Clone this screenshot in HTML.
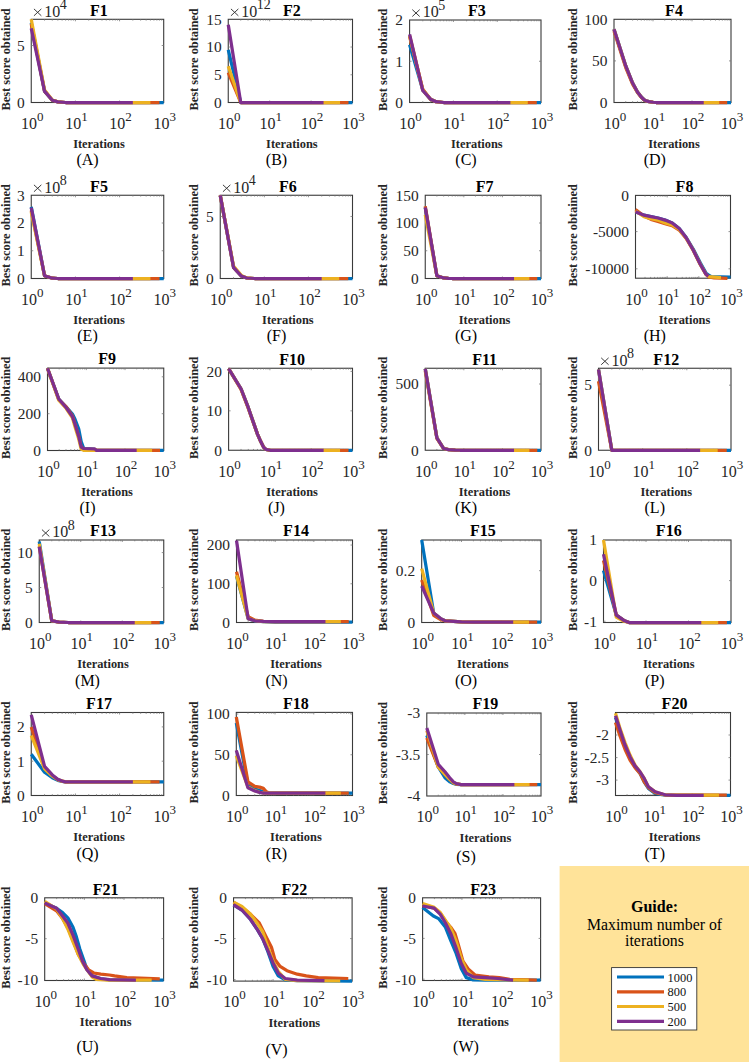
<!DOCTYPE html>
<html><head><meta charset="utf-8"><style>html,body{margin:0;padding:0;background:#fff;}svg{display:block;}</style></head>
<body><svg width="749" height="1062" viewBox="0 0 749 1062">
<rect width="749" height="1062" fill="#fff"/>
<rect x="31.25" y="19.3" width="132.45" height="83.2" fill="none" stroke="#3a3a3a" stroke-width="1.1"/>
<path d="M44.54,19.3v1.3M44.54,102.5v-1.3M52.31,19.3v1.3M52.31,102.5v-1.3M57.83,19.3v1.3M57.83,102.5v-1.3M62.11,19.3v1.3M62.11,102.5v-1.3M65.61,19.3v1.3M65.61,102.5v-1.3M68.56,19.3v1.3M68.56,102.5v-1.3M71.12,19.3v1.3M71.12,102.5v-1.3M73.38,19.3v1.3M73.38,102.5v-1.3M88.69,19.3v1.3M88.69,102.5v-1.3M96.46,19.3v1.3M96.46,102.5v-1.3M101.98,19.3v1.3M101.98,102.5v-1.3M106.26,19.3v1.3M106.26,102.5v-1.3M109.76,19.3v1.3M109.76,102.5v-1.3M112.71,19.3v1.3M112.71,102.5v-1.3M115.27,19.3v1.3M115.27,102.5v-1.3M117.53,19.3v1.3M117.53,102.5v-1.3M132.84,19.3v1.3M132.84,102.5v-1.3M140.61,19.3v1.3M140.61,102.5v-1.3M146.13,19.3v1.3M146.13,102.5v-1.3M150.41,19.3v1.3M150.41,102.5v-1.3M153.91,19.3v1.3M153.91,102.5v-1.3M156.86,19.3v1.3M156.86,102.5v-1.3M159.42,19.3v1.3M159.42,102.5v-1.3M161.68,19.3v1.3M161.68,102.5v-1.3M75.4,19.3v2M75.4,102.5v-2M119.55,19.3v2M119.55,102.5v-2M31.25,45.51h2M163.7,45.51h-2" stroke="#777" stroke-width="0.8" fill="none"/>
<path d="M31.25,22.72 L44.54,91.1 L52.31,100.22 L57.83,101.82 L65.61,102.5 L163.7,102.5" fill="none" stroke="#0072BD" stroke-width="3.25" stroke-linejoin="round" stroke-linecap="butt"/>
<path d="M31.25,23.86 L44.54,91.1 L52.31,100.22 L57.83,101.82 L65.61,102.5 L159.42,102.5" fill="none" stroke="#D95319" stroke-width="3.25" stroke-linejoin="round" stroke-linecap="butt"/>
<path d="M31.25,19.3 L44.54,89.96 L52.31,99.99 L57.83,101.82 L65.61,102.5 L150.41,102.5" fill="none" stroke="#EDB120" stroke-width="3.25" stroke-linejoin="round" stroke-linecap="butt"/>
<path d="M31.25,28.42 L44.54,91.1 L52.31,100.22 L57.83,101.82 L65.61,102.5 L132.84,102.5" fill="none" stroke="#7E2F8E" stroke-width="3.25" stroke-linejoin="round" stroke-linecap="butt"/>
<text x="24.65" y="107.8" text-anchor="end" font-size="15.4" font-family="Liberation Serif" fill="#262626">0</text>
<text x="24.65" y="50.81" text-anchor="end" font-size="15.4" font-family="Liberation Serif" fill="#262626">5</text>
<text x="32.25" y="128.8" text-anchor="middle" font-size="16" font-family="Liberation Serif" fill="#262626">10<tspan font-size="13" dy="-8">0</tspan></text>
<text x="76.4" y="128.8" text-anchor="middle" font-size="16" font-family="Liberation Serif" fill="#262626">10<tspan font-size="13" dy="-8">1</tspan></text>
<text x="120.55" y="128.8" text-anchor="middle" font-size="16" font-family="Liberation Serif" fill="#262626">10<tspan font-size="13" dy="-8">2</tspan></text>
<text x="164.7" y="128.8" text-anchor="middle" font-size="16" font-family="Liberation Serif" fill="#262626">10<tspan font-size="13" dy="-8">3</tspan></text>
<path d="M33.95,8.9L41.35,15.8M33.95,15.8L41.35,8.9" stroke="#333" stroke-width="0.95" fill="none"/>
<text x="44.35" y="16.7" font-size="16" font-family="Liberation Serif" fill="#262626">10</text>
<text x="59.85" y="8.9" font-size="14" font-family="Liberation Serif" fill="#262626">4</text>
<text x="98.97" y="15.6" text-anchor="middle" font-size="16" font-weight="bold" font-family="Liberation Serif" fill="#000">F1</text>
<text x="98.97" y="148.25" text-anchor="middle" font-size="12.4" font-weight="bold" font-family="Liberation Serif" fill="#262626">Iterations</text>
<text transform="translate(9.7,59.4) rotate(-90)" text-anchor="middle" font-size="12.4" font-weight="bold" font-family="Liberation Serif" fill="#262626">Best score obtained</text>
<text x="87.5" y="164.7" text-anchor="middle" font-size="16" font-family="Liberation Serif" fill="#000">(A)</text>
<rect x="228.25" y="19.3" width="124.25" height="83.2" fill="none" stroke="#3a3a3a" stroke-width="1.1"/>
<path d="M240.72,19.3v1.3M240.72,102.5v-1.3M248.01,19.3v1.3M248.01,102.5v-1.3M253.19,19.3v1.3M253.19,102.5v-1.3M257.2,19.3v1.3M257.2,102.5v-1.3M260.48,19.3v1.3M260.48,102.5v-1.3M263.25,19.3v1.3M263.25,102.5v-1.3M265.65,19.3v1.3M265.65,102.5v-1.3M267.77,19.3v1.3M267.77,102.5v-1.3M282.13,19.3v1.3M282.13,102.5v-1.3M289.43,19.3v1.3M289.43,102.5v-1.3M294.6,19.3v1.3M294.6,102.5v-1.3M298.62,19.3v1.3M298.62,102.5v-1.3M301.9,19.3v1.3M301.9,102.5v-1.3M304.67,19.3v1.3M304.67,102.5v-1.3M307.07,19.3v1.3M307.07,102.5v-1.3M309.19,19.3v1.3M309.19,102.5v-1.3M323.55,19.3v1.3M323.55,102.5v-1.3M330.84,19.3v1.3M330.84,102.5v-1.3M336.02,19.3v1.3M336.02,102.5v-1.3M340.03,19.3v1.3M340.03,102.5v-1.3M343.31,19.3v1.3M343.31,102.5v-1.3M346.08,19.3v1.3M346.08,102.5v-1.3M348.49,19.3v1.3M348.49,102.5v-1.3M350.6,19.3v1.3M350.6,102.5v-1.3M269.67,19.3v2M269.67,102.5v-2M311.08,19.3v2M311.08,102.5v-2M228.25,74.77h2M352.5,74.77h-2M228.25,47.03h2M352.5,47.03h-2" stroke="#777" stroke-width="0.8" fill="none"/>
<path d="M228.25,49.81 L240.72,102.5 L352.5,102.5" fill="none" stroke="#0072BD" stroke-width="3.25" stroke-linejoin="round" stroke-linecap="butt"/>
<path d="M228.25,72.55 L240.72,102.5 L348.49,102.5" fill="none" stroke="#D95319" stroke-width="3.25" stroke-linejoin="round" stroke-linecap="butt"/>
<path d="M228.25,66.17 L240.72,102.5 L340.03,102.5" fill="none" stroke="#EDB120" stroke-width="3.25" stroke-linejoin="round" stroke-linecap="butt"/>
<path d="M228.25,24.85 L240.72,102.5 L323.55,102.5" fill="none" stroke="#7E2F8E" stroke-width="3.25" stroke-linejoin="round" stroke-linecap="butt"/>
<text x="221.65" y="107.8" text-anchor="end" font-size="15.4" font-family="Liberation Serif" fill="#262626">0</text>
<text x="221.65" y="80.07" text-anchor="end" font-size="15.4" font-family="Liberation Serif" fill="#262626">5</text>
<text x="221.65" y="52.33" text-anchor="end" font-size="15.4" font-family="Liberation Serif" fill="#262626">10</text>
<text x="221.65" y="24.6" text-anchor="end" font-size="15.4" font-family="Liberation Serif" fill="#262626">15</text>
<text x="229.25" y="128.8" text-anchor="middle" font-size="16" font-family="Liberation Serif" fill="#262626">10<tspan font-size="13" dy="-8">0</tspan></text>
<text x="270.67" y="128.8" text-anchor="middle" font-size="16" font-family="Liberation Serif" fill="#262626">10<tspan font-size="13" dy="-8">1</tspan></text>
<text x="312.08" y="128.8" text-anchor="middle" font-size="16" font-family="Liberation Serif" fill="#262626">10<tspan font-size="13" dy="-8">2</tspan></text>
<text x="353.5" y="128.8" text-anchor="middle" font-size="16" font-family="Liberation Serif" fill="#262626">10<tspan font-size="13" dy="-8">3</tspan></text>
<path d="M230.95,8.9L238.35,15.8M230.95,15.8L238.35,8.9" stroke="#333" stroke-width="0.95" fill="none"/>
<text x="241.35" y="16.7" font-size="16" font-family="Liberation Serif" fill="#262626">10</text>
<text x="256.85" y="8.9" font-size="14" font-family="Liberation Serif" fill="#262626">12</text>
<text x="291.88" y="15.6" text-anchor="middle" font-size="16" font-weight="bold" font-family="Liberation Serif" fill="#000">F2</text>
<text x="291.88" y="148.25" text-anchor="middle" font-size="12.4" font-weight="bold" font-family="Liberation Serif" fill="#262626">Iterations</text>
<text transform="translate(198.1,59.4) rotate(-90)" text-anchor="middle" font-size="12.4" font-weight="bold" font-family="Liberation Serif" fill="#262626">Best score obtained</text>
<text x="276.5" y="164.7" text-anchor="middle" font-size="16" font-family="Liberation Serif" fill="#000">(B)</text>
<rect x="409.6" y="20" width="131.4" height="82.5" fill="none" stroke="#3a3a3a" stroke-width="1.1"/>
<path d="M422.79,20v1.3M422.79,102.5v-1.3M430.5,20v1.3M430.5,102.5v-1.3M435.97,20v1.3M435.97,102.5v-1.3M440.21,20v1.3M440.21,102.5v-1.3M443.68,20v1.3M443.68,102.5v-1.3M446.62,20v1.3M446.62,102.5v-1.3M449.16,20v1.3M449.16,102.5v-1.3M451.4,20v1.3M451.4,102.5v-1.3M466.59,20v1.3M466.59,102.5v-1.3M474.3,20v1.3M474.3,102.5v-1.3M479.77,20v1.3M479.77,102.5v-1.3M484.01,20v1.3M484.01,102.5v-1.3M487.48,20v1.3M487.48,102.5v-1.3M490.42,20v1.3M490.42,102.5v-1.3M492.96,20v1.3M492.96,102.5v-1.3M495.2,20v1.3M495.2,102.5v-1.3M510.39,20v1.3M510.39,102.5v-1.3M518.1,20v1.3M518.1,102.5v-1.3M523.57,20v1.3M523.57,102.5v-1.3M527.81,20v1.3M527.81,102.5v-1.3M531.28,20v1.3M531.28,102.5v-1.3M534.22,20v1.3M534.22,102.5v-1.3M536.76,20v1.3M536.76,102.5v-1.3M539,20v1.3M539,102.5v-1.3M453.4,20v2M453.4,102.5v-2M497.2,20v2M497.2,102.5v-2M409.6,61.25h2M541,61.25h-2" stroke="#777" stroke-width="0.8" fill="none"/>
<path d="M409.6,44.75 L422.79,90.12 L430.5,99.2 L435.97,101.67 L443.68,102.5 L541,102.5" fill="none" stroke="#0072BD" stroke-width="3.25" stroke-linejoin="round" stroke-linecap="butt"/>
<path d="M409.6,36.5 L422.79,89.3 L430.5,99.2 L435.97,101.67 L443.68,102.5 L536.76,102.5" fill="none" stroke="#D95319" stroke-width="3.25" stroke-linejoin="round" stroke-linecap="butt"/>
<path d="M409.6,35.67 L422.79,90.12 L430.5,99.2 L435.97,101.67 L443.68,102.5 L527.81,102.5" fill="none" stroke="#EDB120" stroke-width="3.25" stroke-linejoin="round" stroke-linecap="butt"/>
<path d="M409.6,34.44 L422.79,90.54 L430.5,99.2 L435.97,101.67 L443.68,102.5 L510.39,102.5" fill="none" stroke="#7E2F8E" stroke-width="3.25" stroke-linejoin="round" stroke-linecap="butt"/>
<text x="403" y="107.8" text-anchor="end" font-size="15.4" font-family="Liberation Serif" fill="#262626">0</text>
<text x="403" y="66.55" text-anchor="end" font-size="15.4" font-family="Liberation Serif" fill="#262626">1</text>
<text x="403" y="25.3" text-anchor="end" font-size="15.4" font-family="Liberation Serif" fill="#262626">2</text>
<text x="410.6" y="128.8" text-anchor="middle" font-size="16" font-family="Liberation Serif" fill="#262626">10<tspan font-size="13" dy="-8">0</tspan></text>
<text x="454.4" y="128.8" text-anchor="middle" font-size="16" font-family="Liberation Serif" fill="#262626">10<tspan font-size="13" dy="-8">1</tspan></text>
<text x="498.2" y="128.8" text-anchor="middle" font-size="16" font-family="Liberation Serif" fill="#262626">10<tspan font-size="13" dy="-8">2</tspan></text>
<text x="542" y="128.8" text-anchor="middle" font-size="16" font-family="Liberation Serif" fill="#262626">10<tspan font-size="13" dy="-8">3</tspan></text>
<path d="M412.3,9.6L419.7,16.5M412.3,16.5L419.7,9.6" stroke="#333" stroke-width="0.95" fill="none"/>
<text x="422.7" y="17.4" font-size="16" font-family="Liberation Serif" fill="#262626">10</text>
<text x="438.2" y="9.6" font-size="14" font-family="Liberation Serif" fill="#262626">5</text>
<text x="476.8" y="16.3" text-anchor="middle" font-size="16" font-weight="bold" font-family="Liberation Serif" fill="#000">F3</text>
<text x="476.8" y="148.25" text-anchor="middle" font-size="12.4" font-weight="bold" font-family="Liberation Serif" fill="#262626">Iterations</text>
<text transform="translate(387.1,59.75) rotate(-90)" text-anchor="middle" font-size="12.4" font-weight="bold" font-family="Liberation Serif" fill="#262626">Best score obtained</text>
<text x="466" y="164.7" text-anchor="middle" font-size="16" font-family="Liberation Serif" fill="#000">(C)</text>
<rect x="614" y="19.3" width="117" height="83.2" fill="none" stroke="#3a3a3a" stroke-width="1.1"/>
<path d="M625.74,19.3v1.3M625.74,102.5v-1.3M632.61,19.3v1.3M632.61,102.5v-1.3M637.48,19.3v1.3M637.48,102.5v-1.3M641.26,19.3v1.3M641.26,102.5v-1.3M644.35,19.3v1.3M644.35,102.5v-1.3M646.96,19.3v1.3M646.96,102.5v-1.3M649.22,19.3v1.3M649.22,102.5v-1.3M651.22,19.3v1.3M651.22,102.5v-1.3M664.74,19.3v1.3M664.74,102.5v-1.3M671.61,19.3v1.3M671.61,102.5v-1.3M676.48,19.3v1.3M676.48,102.5v-1.3M680.26,19.3v1.3M680.26,102.5v-1.3M683.35,19.3v1.3M683.35,102.5v-1.3M685.96,19.3v1.3M685.96,102.5v-1.3M688.22,19.3v1.3M688.22,102.5v-1.3M690.22,19.3v1.3M690.22,102.5v-1.3M703.74,19.3v1.3M703.74,102.5v-1.3M710.61,19.3v1.3M710.61,102.5v-1.3M715.48,19.3v1.3M715.48,102.5v-1.3M719.26,19.3v1.3M719.26,102.5v-1.3M722.35,19.3v1.3M722.35,102.5v-1.3M724.96,19.3v1.3M724.96,102.5v-1.3M727.22,19.3v1.3M727.22,102.5v-1.3M729.22,19.3v1.3M729.22,102.5v-1.3M653,19.3v2M653,102.5v-2M692,19.3v2M692,102.5v-2M614,60.9h2M731,60.9h-2" stroke="#777" stroke-width="0.8" fill="none"/>
<path d="M614,29.37 L625.74,65.98 L632.61,83.03 L637.48,92.02 L641.26,97.01 L644.35,100 L646.96,101.17 L649.22,101.67 L653,102.25 L656.09,102.5 L731,102.5" fill="none" stroke="#0072BD" stroke-width="3.25" stroke-linejoin="round" stroke-linecap="butt"/>
<path d="M614,30.95 L625.74,67.56 L632.61,84.2 L637.48,92.52 L641.26,97.34 L644.35,100.17 L646.96,101.25 L649.22,101.67 L653,102.25 L656.09,102.5 L727.22,102.5" fill="none" stroke="#D95319" stroke-width="3.25" stroke-linejoin="round" stroke-linecap="butt"/>
<path d="M614,29.37 L625.74,65.98 L632.61,83.03 L637.48,92.02 L641.26,97.01 L644.35,100 L646.96,101.17 L649.22,101.67 L653,102.25 L656.09,102.5 L719.26,102.5" fill="none" stroke="#EDB120" stroke-width="3.25" stroke-linejoin="round" stroke-linecap="butt"/>
<path d="M614,29.37 L625.74,65.98 L632.61,83.03 L637.48,92.02 L641.26,97.01 L644.35,100 L646.96,101.17 L649.22,101.67 L653,102.25 L656.09,102.5 L703.74,102.5" fill="none" stroke="#7E2F8E" stroke-width="3.25" stroke-linejoin="round" stroke-linecap="butt"/>
<text x="607.4" y="107.8" text-anchor="end" font-size="15.4" font-family="Liberation Serif" fill="#262626">0</text>
<text x="607.4" y="66.2" text-anchor="end" font-size="15.4" font-family="Liberation Serif" fill="#262626">50</text>
<text x="607.4" y="24.6" text-anchor="end" font-size="15.4" font-family="Liberation Serif" fill="#262626">100</text>
<text x="615" y="128.8" text-anchor="middle" font-size="16" font-family="Liberation Serif" fill="#262626">10<tspan font-size="13" dy="-8">0</tspan></text>
<text x="654" y="128.8" text-anchor="middle" font-size="16" font-family="Liberation Serif" fill="#262626">10<tspan font-size="13" dy="-8">1</tspan></text>
<text x="693" y="128.8" text-anchor="middle" font-size="16" font-family="Liberation Serif" fill="#262626">10<tspan font-size="13" dy="-8">2</tspan></text>
<text x="732" y="128.8" text-anchor="middle" font-size="16" font-family="Liberation Serif" fill="#262626">10<tspan font-size="13" dy="-8">3</tspan></text>
<text x="674" y="15.6" text-anchor="middle" font-size="16" font-weight="bold" font-family="Liberation Serif" fill="#000">F4</text>
<text x="674" y="148.25" text-anchor="middle" font-size="12.4" font-weight="bold" font-family="Liberation Serif" fill="#262626">Iterations</text>
<text transform="translate(576.7,59.4) rotate(-90)" text-anchor="middle" font-size="12.4" font-weight="bold" font-family="Liberation Serif" fill="#262626">Best score obtained</text>
<text x="654.75" y="164.7" text-anchor="middle" font-size="16" font-family="Liberation Serif" fill="#000">(D)</text>
<rect x="31.25" y="195.25" width="132.5" height="83.25" fill="none" stroke="#3a3a3a" stroke-width="1.1"/>
<path d="M44.55,195.25v1.3M44.55,278.5v-1.3M52.32,195.25v1.3M52.32,278.5v-1.3M57.84,195.25v1.3M57.84,278.5v-1.3M62.12,195.25v1.3M62.12,278.5v-1.3M65.62,195.25v1.3M65.62,278.5v-1.3M68.58,195.25v1.3M68.58,278.5v-1.3M71.14,195.25v1.3M71.14,278.5v-1.3M73.4,195.25v1.3M73.4,278.5v-1.3M88.71,195.25v1.3M88.71,278.5v-1.3M96.49,195.25v1.3M96.49,278.5v-1.3M102.01,195.25v1.3M102.01,278.5v-1.3M106.29,195.25v1.3M106.29,278.5v-1.3M109.79,195.25v1.3M109.79,278.5v-1.3M112.74,195.25v1.3M112.74,278.5v-1.3M115.3,195.25v1.3M115.3,278.5v-1.3M117.56,195.25v1.3M117.56,278.5v-1.3M132.88,195.25v1.3M132.88,278.5v-1.3M140.66,195.25v1.3M140.66,278.5v-1.3M146.17,195.25v1.3M146.17,278.5v-1.3M150.45,195.25v1.3M150.45,278.5v-1.3M153.95,195.25v1.3M153.95,278.5v-1.3M156.91,195.25v1.3M156.91,278.5v-1.3M159.47,195.25v1.3M159.47,278.5v-1.3M161.73,195.25v1.3M161.73,278.5v-1.3M75.42,195.25v2M75.42,278.5v-2M119.58,195.25v2M119.58,278.5v-2M31.25,250.75h2M163.75,250.75h-2M31.25,223h2M163.75,223h-2" stroke="#777" stroke-width="0.8" fill="none"/>
<path d="M31.25,206.91 L44.55,275.73 L52.32,278.22 L57.84,278.5 L163.75,278.5" fill="none" stroke="#0072BD" stroke-width="3.25" stroke-linejoin="round" stroke-linecap="butt"/>
<path d="M31.25,210.51 L44.55,275.73 L52.32,278.22 L57.84,278.5 L159.47,278.5" fill="none" stroke="#D95319" stroke-width="3.25" stroke-linejoin="round" stroke-linecap="butt"/>
<path d="M31.25,211.9 L44.55,275.73 L52.32,278.22 L57.84,278.5 L150.45,278.5" fill="none" stroke="#EDB120" stroke-width="3.25" stroke-linejoin="round" stroke-linecap="butt"/>
<path d="M31.25,207.74 L44.55,275.73 L52.32,278.22 L57.84,278.5 L132.88,278.5" fill="none" stroke="#7E2F8E" stroke-width="3.25" stroke-linejoin="round" stroke-linecap="butt"/>
<text x="24.65" y="283.8" text-anchor="end" font-size="15.4" font-family="Liberation Serif" fill="#262626">0</text>
<text x="24.65" y="256.05" text-anchor="end" font-size="15.4" font-family="Liberation Serif" fill="#262626">1</text>
<text x="24.65" y="228.3" text-anchor="end" font-size="15.4" font-family="Liberation Serif" fill="#262626">2</text>
<text x="24.65" y="200.55" text-anchor="end" font-size="15.4" font-family="Liberation Serif" fill="#262626">3</text>
<text x="32.25" y="304.8" text-anchor="middle" font-size="16" font-family="Liberation Serif" fill="#262626">10<tspan font-size="13" dy="-8">0</tspan></text>
<text x="76.42" y="304.8" text-anchor="middle" font-size="16" font-family="Liberation Serif" fill="#262626">10<tspan font-size="13" dy="-8">1</tspan></text>
<text x="120.58" y="304.8" text-anchor="middle" font-size="16" font-family="Liberation Serif" fill="#262626">10<tspan font-size="13" dy="-8">2</tspan></text>
<text x="164.75" y="304.8" text-anchor="middle" font-size="16" font-family="Liberation Serif" fill="#262626">10<tspan font-size="13" dy="-8">3</tspan></text>
<path d="M33.95,184.85L41.35,191.75M33.95,191.75L41.35,184.85" stroke="#333" stroke-width="0.95" fill="none"/>
<text x="44.35" y="192.65" font-size="16" font-family="Liberation Serif" fill="#262626">10</text>
<text x="59.85" y="184.85" font-size="14" font-family="Liberation Serif" fill="#262626">8</text>
<text x="99" y="191.55" text-anchor="middle" font-size="16" font-weight="bold" font-family="Liberation Serif" fill="#000">F5</text>
<text x="99" y="324.25" text-anchor="middle" font-size="12.4" font-weight="bold" font-family="Liberation Serif" fill="#262626">Iterations</text>
<text transform="translate(9.7,235.38) rotate(-90)" text-anchor="middle" font-size="12.4" font-weight="bold" font-family="Liberation Serif" fill="#262626">Best score obtained</text>
<text x="87.5" y="340.8" text-anchor="middle" font-size="16" font-family="Liberation Serif" fill="#000">(E)</text>
<rect x="220.25" y="195.25" width="132.25" height="83.25" fill="none" stroke="#3a3a3a" stroke-width="1.1"/>
<path d="M233.52,195.25v1.3M233.52,278.5v-1.3M241.28,195.25v1.3M241.28,278.5v-1.3M246.79,195.25v1.3M246.79,278.5v-1.3M251.06,195.25v1.3M251.06,278.5v-1.3M254.55,195.25v1.3M254.55,278.5v-1.3M257.5,195.25v1.3M257.5,278.5v-1.3M260.06,195.25v1.3M260.06,278.5v-1.3M262.32,195.25v1.3M262.32,278.5v-1.3M277.6,195.25v1.3M277.6,278.5v-1.3M285.37,195.25v1.3M285.37,278.5v-1.3M290.87,195.25v1.3M290.87,278.5v-1.3M295.15,195.25v1.3M295.15,278.5v-1.3M298.64,195.25v1.3M298.64,278.5v-1.3M301.59,195.25v1.3M301.59,278.5v-1.3M304.14,195.25v1.3M304.14,278.5v-1.3M306.4,195.25v1.3M306.4,278.5v-1.3M321.69,195.25v1.3M321.69,278.5v-1.3M329.45,195.25v1.3M329.45,278.5v-1.3M334.96,195.25v1.3M334.96,278.5v-1.3M339.23,195.25v1.3M339.23,278.5v-1.3M342.72,195.25v1.3M342.72,278.5v-1.3M345.67,195.25v1.3M345.67,278.5v-1.3M348.23,195.25v1.3M348.23,278.5v-1.3M350.48,195.25v1.3M350.48,278.5v-1.3M264.33,195.25v2M264.33,278.5v-2M308.42,195.25v2M308.42,278.5v-2M220.25,216.47h2M352.5,216.47h-2" stroke="#777" stroke-width="0.8" fill="none"/>
<path d="M220.25,195.37 L233.52,267.33 L241.28,276.02 L246.79,278 L254.55,278.5 L352.5,278.5" fill="none" stroke="#0072BD" stroke-width="3.25" stroke-linejoin="round" stroke-linecap="butt"/>
<path d="M220.25,195.37 L233.52,267.33 L241.28,276.02 L246.79,278 L254.55,278.5 L348.23,278.5" fill="none" stroke="#D95319" stroke-width="3.25" stroke-linejoin="round" stroke-linecap="butt"/>
<path d="M220.25,195.37 L233.52,266.09 L241.28,275.4 L246.79,277.88 L254.55,278.5 L339.23,278.5" fill="none" stroke="#EDB120" stroke-width="3.25" stroke-linejoin="round" stroke-linecap="butt"/>
<path d="M220.25,195.37 L233.52,267.33 L241.28,276.02 L246.79,278 L254.55,278.5 L321.69,278.5" fill="none" stroke="#7E2F8E" stroke-width="3.25" stroke-linejoin="round" stroke-linecap="butt"/>
<text x="213.65" y="283.8" text-anchor="end" font-size="15.4" font-family="Liberation Serif" fill="#262626">0</text>
<text x="213.65" y="221.77" text-anchor="end" font-size="15.4" font-family="Liberation Serif" fill="#262626">5</text>
<text x="221.25" y="304.8" text-anchor="middle" font-size="16" font-family="Liberation Serif" fill="#262626">10<tspan font-size="13" dy="-8">0</tspan></text>
<text x="265.33" y="304.8" text-anchor="middle" font-size="16" font-family="Liberation Serif" fill="#262626">10<tspan font-size="13" dy="-8">1</tspan></text>
<text x="309.42" y="304.8" text-anchor="middle" font-size="16" font-family="Liberation Serif" fill="#262626">10<tspan font-size="13" dy="-8">2</tspan></text>
<text x="353.5" y="304.8" text-anchor="middle" font-size="16" font-family="Liberation Serif" fill="#262626">10<tspan font-size="13" dy="-8">3</tspan></text>
<path d="M222.95,184.85L230.35,191.75M222.95,191.75L230.35,184.85" stroke="#333" stroke-width="0.95" fill="none"/>
<text x="233.35" y="192.65" font-size="16" font-family="Liberation Serif" fill="#262626">10</text>
<text x="248.85" y="184.85" font-size="14" font-family="Liberation Serif" fill="#262626">4</text>
<text x="287.88" y="191.55" text-anchor="middle" font-size="16" font-weight="bold" font-family="Liberation Serif" fill="#000">F6</text>
<text x="287.88" y="324.25" text-anchor="middle" font-size="12.4" font-weight="bold" font-family="Liberation Serif" fill="#262626">Iterations</text>
<text transform="translate(198.1,235.38) rotate(-90)" text-anchor="middle" font-size="12.4" font-weight="bold" font-family="Liberation Serif" fill="#262626">Best score obtained</text>
<text x="276.5" y="340.8" text-anchor="middle" font-size="16" font-family="Liberation Serif" fill="#000">(F)</text>
<rect x="425.25" y="195.25" width="115.75" height="83.25" fill="none" stroke="#3a3a3a" stroke-width="1.1"/>
<path d="M436.86,195.25v1.3M436.86,278.5v-1.3M443.66,195.25v1.3M443.66,278.5v-1.3M448.48,195.25v1.3M448.48,278.5v-1.3M452.22,195.25v1.3M452.22,278.5v-1.3M455.27,195.25v1.3M455.27,278.5v-1.3M457.86,195.25v1.3M457.86,278.5v-1.3M460.09,195.25v1.3M460.09,278.5v-1.3M462.07,195.25v1.3M462.07,278.5v-1.3M475.45,195.25v1.3M475.45,278.5v-1.3M482.24,195.25v1.3M482.24,278.5v-1.3M487.06,195.25v1.3M487.06,278.5v-1.3M490.8,195.25v1.3M490.8,278.5v-1.3M493.86,195.25v1.3M493.86,278.5v-1.3M496.44,195.25v1.3M496.44,278.5v-1.3M498.68,195.25v1.3M498.68,278.5v-1.3M500.65,195.25v1.3M500.65,278.5v-1.3M514.03,195.25v1.3M514.03,278.5v-1.3M520.83,195.25v1.3M520.83,278.5v-1.3M525.65,195.25v1.3M525.65,278.5v-1.3M529.39,195.25v1.3M529.39,278.5v-1.3M532.44,195.25v1.3M532.44,278.5v-1.3M535.02,195.25v1.3M535.02,278.5v-1.3M537.26,195.25v1.3M537.26,278.5v-1.3M539.23,195.25v1.3M539.23,278.5v-1.3M463.83,195.25v2M463.83,278.5v-2M502.42,195.25v2M502.42,278.5v-2M425.25,250.75h2M541,250.75h-2M425.25,223h2M541,223h-2" stroke="#777" stroke-width="0.8" fill="none"/>
<path d="M425.25,207.46 L436.86,275.73 L443.66,277.94 L448.48,278.33 L452.22,278.5 L541,278.5" fill="none" stroke="#0072BD" stroke-width="3.25" stroke-linejoin="round" stroke-linecap="butt"/>
<path d="M425.25,206.35 L436.86,275.73 L443.66,277.94 L448.48,278.33 L452.22,278.5 L537.26,278.5" fill="none" stroke="#D95319" stroke-width="3.25" stroke-linejoin="round" stroke-linecap="butt"/>
<path d="M425.25,214.68 L436.86,275.73 L443.66,277.94 L448.48,278.33 L452.22,278.5 L529.39,278.5" fill="none" stroke="#EDB120" stroke-width="3.25" stroke-linejoin="round" stroke-linecap="butt"/>
<path d="M425.25,207.46 L436.86,275.73 L443.66,277.94 L448.48,278.33 L452.22,278.5 L514.03,278.5" fill="none" stroke="#7E2F8E" stroke-width="3.25" stroke-linejoin="round" stroke-linecap="butt"/>
<text x="418.65" y="283.8" text-anchor="end" font-size="15.4" font-family="Liberation Serif" fill="#262626">0</text>
<text x="418.65" y="256.05" text-anchor="end" font-size="15.4" font-family="Liberation Serif" fill="#262626">50</text>
<text x="418.65" y="228.3" text-anchor="end" font-size="15.4" font-family="Liberation Serif" fill="#262626">100</text>
<text x="418.65" y="200.55" text-anchor="end" font-size="15.4" font-family="Liberation Serif" fill="#262626">150</text>
<text x="426.25" y="304.8" text-anchor="middle" font-size="16" font-family="Liberation Serif" fill="#262626">10<tspan font-size="13" dy="-8">0</tspan></text>
<text x="464.83" y="304.8" text-anchor="middle" font-size="16" font-family="Liberation Serif" fill="#262626">10<tspan font-size="13" dy="-8">1</tspan></text>
<text x="503.42" y="304.8" text-anchor="middle" font-size="16" font-family="Liberation Serif" fill="#262626">10<tspan font-size="13" dy="-8">2</tspan></text>
<text x="542" y="304.8" text-anchor="middle" font-size="16" font-family="Liberation Serif" fill="#262626">10<tspan font-size="13" dy="-8">3</tspan></text>
<text x="484.62" y="191.55" text-anchor="middle" font-size="16" font-weight="bold" font-family="Liberation Serif" fill="#000">F7</text>
<text x="484.62" y="324.25" text-anchor="middle" font-size="12.4" font-weight="bold" font-family="Liberation Serif" fill="#262626">Iterations</text>
<text transform="translate(387.1,235.38) rotate(-90)" text-anchor="middle" font-size="12.4" font-weight="bold" font-family="Liberation Serif" fill="#262626">Best score obtained</text>
<text x="466" y="340.8" text-anchor="middle" font-size="16" font-family="Liberation Serif" fill="#000">(G)</text>
<rect x="635.5" y="195.4" width="95" height="82.8" fill="none" stroke="#3a3a3a" stroke-width="1.1"/>
<path d="M645.03,195.4v1.3M645.03,278.2v-1.3M650.61,195.4v1.3M650.61,278.2v-1.3M654.57,195.4v1.3M654.57,278.2v-1.3M657.63,195.4v1.3M657.63,278.2v-1.3M660.14,195.4v1.3M660.14,278.2v-1.3M662.26,195.4v1.3M662.26,278.2v-1.3M664.1,195.4v1.3M664.1,278.2v-1.3M665.72,195.4v1.3M665.72,278.2v-1.3M676.7,195.4v1.3M676.7,278.2v-1.3M682.28,195.4v1.3M682.28,278.2v-1.3M686.23,195.4v1.3M686.23,278.2v-1.3M689.3,195.4v1.3M689.3,278.2v-1.3M691.81,195.4v1.3M691.81,278.2v-1.3M693.93,195.4v1.3M693.93,278.2v-1.3M695.76,195.4v1.3M695.76,278.2v-1.3M697.38,195.4v1.3M697.38,278.2v-1.3M708.37,195.4v1.3M708.37,278.2v-1.3M713.94,195.4v1.3M713.94,278.2v-1.3M717.9,195.4v1.3M717.9,278.2v-1.3M720.97,195.4v1.3M720.97,278.2v-1.3M723.47,195.4v1.3M723.47,278.2v-1.3M725.59,195.4v1.3M725.59,278.2v-1.3M727.43,195.4v1.3M727.43,278.2v-1.3M729.05,195.4v1.3M729.05,278.2v-1.3M667.17,195.4v2M667.17,278.2v-2M698.83,195.4v2M698.83,278.2v-2M635.5,231.6h2M730.5,231.6h-2M635.5,268.8h2M730.5,268.8h-2" stroke="#777" stroke-width="0.8" fill="none"/>
<path d="M635.5,211.7 L643.96,215.2 L650.97,216.6 L657.91,218 L665.09,220.1 L672.18,222.9 L679.21,228.6 L686.23,237.5 L693.33,249.3 L700.27,262.8 L705.89,272.9 L708.71,275.2 L711.43,276.6 L730.5,277" fill="none" stroke="#0072BD" stroke-width="3.25" stroke-linejoin="round" stroke-linecap="butt"/>
<path d="M635.5,209.6 L643.96,216 L650.97,219.4 L657.91,221.5 L665.09,223.6 L672.18,225.7 L679.21,230 L686.23,238.5 L693.33,250.5 L700.27,264.5 L705.89,274.3 L708.71,277 L713.94,277.8 L727.43,278.3" fill="none" stroke="#D95319" stroke-width="3.25" stroke-linejoin="round" stroke-linecap="butt"/>
<path d="M635.5,211 L643.96,216.6 L650.97,218.7 L657.91,220.1 L665.09,223 L672.18,225 L679.21,229.5 L686.23,238 L693.33,250.3 L700.27,264.3 L705.89,274.1 L708.71,276.6 L720.97,277.6" fill="none" stroke="#EDB120" stroke-width="3.25" stroke-linejoin="round" stroke-linecap="butt"/>
<path d="M635.5,211.7 L643.96,215.2 L650.97,216.6 L657.91,218 L665.09,220.1 L672.18,222.9 L679.21,228.6 L686.23,237.7 L693.33,250.3 L700.27,264.3 L705.89,274.1 L708.37,276.2" fill="none" stroke="#7E2F8E" stroke-width="3.25" stroke-linejoin="round" stroke-linecap="butt"/>
<text x="628.9" y="200.7" text-anchor="end" font-size="15.4" font-family="Liberation Serif" fill="#262626">0</text>
<text x="628.9" y="236.9" text-anchor="end" font-size="15.4" font-family="Liberation Serif" fill="#262626">-5000</text>
<text x="628.9" y="274.1" text-anchor="end" font-size="15.4" font-family="Liberation Serif" fill="#262626">-10000</text>
<text x="636.5" y="304.5" text-anchor="middle" font-size="16" font-family="Liberation Serif" fill="#262626">10<tspan font-size="13" dy="-8">0</tspan></text>
<text x="668.17" y="304.5" text-anchor="middle" font-size="16" font-family="Liberation Serif" fill="#262626">10<tspan font-size="13" dy="-8">1</tspan></text>
<text x="699.83" y="304.5" text-anchor="middle" font-size="16" font-family="Liberation Serif" fill="#262626">10<tspan font-size="13" dy="-8">2</tspan></text>
<text x="731.5" y="304.5" text-anchor="middle" font-size="16" font-family="Liberation Serif" fill="#262626">10<tspan font-size="13" dy="-8">3</tspan></text>
<text x="684.5" y="191.7" text-anchor="middle" font-size="16" font-weight="bold" font-family="Liberation Serif" fill="#000">F8</text>
<text x="684.5" y="323.95" text-anchor="middle" font-size="12.4" font-weight="bold" font-family="Liberation Serif" fill="#262626">Iterations</text>
<text transform="translate(576.7,235.3) rotate(-90)" text-anchor="middle" font-size="12.4" font-weight="bold" font-family="Liberation Serif" fill="#262626">Best score obtained</text>
<text x="654.75" y="340.8" text-anchor="middle" font-size="16" font-family="Liberation Serif" fill="#000">(H)</text>
<rect x="47.5" y="368.1" width="116.25" height="82.4" fill="none" stroke="#3a3a3a" stroke-width="1.1"/>
<path d="M59.16,368.1v1.3M59.16,450.5v-1.3M65.99,368.1v1.3M65.99,450.5v-1.3M70.83,368.1v1.3M70.83,450.5v-1.3M74.59,368.1v1.3M74.59,450.5v-1.3M77.65,368.1v1.3M77.65,450.5v-1.3M80.25,368.1v1.3M80.25,450.5v-1.3M82.49,368.1v1.3M82.49,450.5v-1.3M84.48,368.1v1.3M84.48,450.5v-1.3M97.91,368.1v1.3M97.91,450.5v-1.3M104.74,368.1v1.3M104.74,450.5v-1.3M109.58,368.1v1.3M109.58,450.5v-1.3M113.34,368.1v1.3M113.34,450.5v-1.3M116.4,368.1v1.3M116.4,450.5v-1.3M119,368.1v1.3M119,450.5v-1.3M121.24,368.1v1.3M121.24,450.5v-1.3M123.23,368.1v1.3M123.23,450.5v-1.3M136.66,368.1v1.3M136.66,450.5v-1.3M143.49,368.1v1.3M143.49,450.5v-1.3M148.33,368.1v1.3M148.33,450.5v-1.3M152.09,368.1v1.3M152.09,450.5v-1.3M155.15,368.1v1.3M155.15,450.5v-1.3M157.75,368.1v1.3M157.75,450.5v-1.3M159.99,368.1v1.3M159.99,450.5v-1.3M161.98,368.1v1.3M161.98,450.5v-1.3M86.25,368.1v2M86.25,450.5v-2M125,368.1v2M125,450.5v-2M47.5,413.7h2M163.75,413.7h-2M47.5,376.8h2M163.75,376.8h-2" stroke="#777" stroke-width="0.8" fill="none"/>
<path d="M47.5,368.25 L58.74,399 L66.27,407 L72.43,414 L74.92,419 L78.74,429 L81.18,441.5 L83.71,448.5 L94.16,449 L96.14,450.25 L163.75,450.25" fill="none" stroke="#0072BD" stroke-width="3.25" stroke-linejoin="round" stroke-linecap="butt"/>
<path d="M47.5,368.25 L58.74,399.5 L66.27,407 L72.43,416 L74.92,424 L78.74,436.5 L81.18,447 L83.71,449 L94.98,449.25 L96.14,450.25 L159.99,450.25" fill="none" stroke="#D95319" stroke-width="3.25" stroke-linejoin="round" stroke-linecap="butt"/>
<path d="M47.5,368.25 L58.74,400.25 L66.27,408.5 L72.43,417.75 L74.92,426.5 L78.74,439 L81.18,449 L83.71,450.25 L152.09,450.25" fill="none" stroke="#EDB120" stroke-width="3.25" stroke-linejoin="round" stroke-linecap="butt"/>
<path d="M47.5,368.25 L58.74,399 L66.27,407.75 L72.43,416.5 L74.92,424 L78.74,436.5 L81.18,447 L83.71,448.5 L94.98,449 L96.14,450.25 L136.66,450.25" fill="none" stroke="#7E2F8E" stroke-width="3.25" stroke-linejoin="round" stroke-linecap="butt"/>
<text x="40.9" y="455.8" text-anchor="end" font-size="15.4" font-family="Liberation Serif" fill="#262626">0</text>
<text x="40.9" y="419" text-anchor="end" font-size="15.4" font-family="Liberation Serif" fill="#262626">200</text>
<text x="40.9" y="382.1" text-anchor="end" font-size="15.4" font-family="Liberation Serif" fill="#262626">400</text>
<text x="48.5" y="476.8" text-anchor="middle" font-size="16" font-family="Liberation Serif" fill="#262626">10<tspan font-size="13" dy="-8">0</tspan></text>
<text x="87.25" y="476.8" text-anchor="middle" font-size="16" font-family="Liberation Serif" fill="#262626">10<tspan font-size="13" dy="-8">1</tspan></text>
<text x="126" y="476.8" text-anchor="middle" font-size="16" font-family="Liberation Serif" fill="#262626">10<tspan font-size="13" dy="-8">2</tspan></text>
<text x="164.75" y="476.8" text-anchor="middle" font-size="16" font-family="Liberation Serif" fill="#262626">10<tspan font-size="13" dy="-8">3</tspan></text>
<text x="107.12" y="364.4" text-anchor="middle" font-size="16" font-weight="bold" font-family="Liberation Serif" fill="#000">F9</text>
<text x="107.12" y="496.25" text-anchor="middle" font-size="12.4" font-weight="bold" font-family="Liberation Serif" fill="#262626">Iterations</text>
<text transform="translate(9.7,407.8) rotate(-90)" text-anchor="middle" font-size="12.4" font-weight="bold" font-family="Liberation Serif" fill="#262626">Best score obtained</text>
<text x="87.5" y="513" text-anchor="middle" font-size="16" font-family="Liberation Serif" fill="#000">(I)</text>
<rect x="228.6" y="368.25" width="123.9" height="82" fill="none" stroke="#3a3a3a" stroke-width="1.1"/>
<path d="M241.03,368.25v1.3M241.03,450.25v-1.3M248.31,368.25v1.3M248.31,450.25v-1.3M253.47,368.25v1.3M253.47,450.25v-1.3M257.47,368.25v1.3M257.47,450.25v-1.3M260.74,368.25v1.3M260.74,450.25v-1.3M263.5,368.25v1.3M263.5,450.25v-1.3M265.9,368.25v1.3M265.9,450.25v-1.3M268.01,368.25v1.3M268.01,450.25v-1.3M282.33,368.25v1.3M282.33,450.25v-1.3M289.61,368.25v1.3M289.61,450.25v-1.3M294.77,368.25v1.3M294.77,450.25v-1.3M298.77,368.25v1.3M298.77,450.25v-1.3M302.04,368.25v1.3M302.04,450.25v-1.3M304.8,368.25v1.3M304.8,450.25v-1.3M307.2,368.25v1.3M307.2,450.25v-1.3M309.31,368.25v1.3M309.31,450.25v-1.3M323.63,368.25v1.3M323.63,450.25v-1.3M330.91,368.25v1.3M330.91,450.25v-1.3M336.07,368.25v1.3M336.07,450.25v-1.3M340.07,368.25v1.3M340.07,450.25v-1.3M343.34,368.25v1.3M343.34,450.25v-1.3M346.1,368.25v1.3M346.1,450.25v-1.3M348.5,368.25v1.3M348.5,450.25v-1.3M350.61,368.25v1.3M350.61,450.25v-1.3M269.9,368.25v2M269.9,450.25v-2M311.2,368.25v2M311.2,450.25v-2M228.6,410.83h2M352.5,410.83h-2M228.6,371.4h2M352.5,371.4h-2" stroke="#777" stroke-width="0.8" fill="none"/>
<path d="M228.6,368.64 L241.03,388.75 L248.31,407.67 L253.47,422.65 L257.47,434.09 L260.74,441.58 L263.5,447.1 L265.9,449.46 L269.9,450.25 L352.5,450.25" fill="none" stroke="#0072BD" stroke-width="3.25" stroke-linejoin="round" stroke-linecap="butt"/>
<path d="M228.6,368.64 L241.03,389.54 L248.31,408.46 L253.47,423.05 L257.47,434.09 L260.74,441.58 L263.5,447.1 L265.9,449.46 L269.9,450.25 L348.5,450.25" fill="none" stroke="#D95319" stroke-width="3.25" stroke-linejoin="round" stroke-linecap="butt"/>
<path d="M228.6,368.64 L241.03,388.75 L248.31,407.67 L253.47,422.65 L257.47,434.09 L260.74,441.58 L263.5,447.1 L265.9,449.46 L269.9,450.25 L340.07,450.25" fill="none" stroke="#EDB120" stroke-width="3.25" stroke-linejoin="round" stroke-linecap="butt"/>
<path d="M228.6,368.64 L241.03,388.75 L248.31,407.67 L253.47,422.65 L257.47,434.09 L260.74,441.58 L263.5,447.1 L265.9,449.46 L269.9,450.25 L323.63,450.25" fill="none" stroke="#7E2F8E" stroke-width="3.25" stroke-linejoin="round" stroke-linecap="butt"/>
<text x="222" y="455.55" text-anchor="end" font-size="15.4" font-family="Liberation Serif" fill="#262626">0</text>
<text x="222" y="416.13" text-anchor="end" font-size="15.4" font-family="Liberation Serif" fill="#262626">10</text>
<text x="222" y="376.7" text-anchor="end" font-size="15.4" font-family="Liberation Serif" fill="#262626">20</text>
<text x="229.6" y="476.55" text-anchor="middle" font-size="16" font-family="Liberation Serif" fill="#262626">10<tspan font-size="13" dy="-8">0</tspan></text>
<text x="270.9" y="476.55" text-anchor="middle" font-size="16" font-family="Liberation Serif" fill="#262626">10<tspan font-size="13" dy="-8">1</tspan></text>
<text x="312.2" y="476.55" text-anchor="middle" font-size="16" font-family="Liberation Serif" fill="#262626">10<tspan font-size="13" dy="-8">2</tspan></text>
<text x="353.5" y="476.55" text-anchor="middle" font-size="16" font-family="Liberation Serif" fill="#262626">10<tspan font-size="13" dy="-8">3</tspan></text>
<text x="292.05" y="364.55" text-anchor="middle" font-size="16" font-weight="bold" font-family="Liberation Serif" fill="#000">F10</text>
<text x="292.05" y="496" text-anchor="middle" font-size="12.4" font-weight="bold" font-family="Liberation Serif" fill="#262626">Iterations</text>
<text transform="translate(198.1,407.75) rotate(-90)" text-anchor="middle" font-size="12.4" font-weight="bold" font-family="Liberation Serif" fill="#262626">Best score obtained</text>
<text x="276.5" y="513" text-anchor="middle" font-size="16" font-family="Liberation Serif" fill="#000">(J)</text>
<rect x="425.25" y="368.25" width="115.75" height="82" fill="none" stroke="#3a3a3a" stroke-width="1.1"/>
<path d="M436.86,368.25v1.3M436.86,450.25v-1.3M443.66,368.25v1.3M443.66,450.25v-1.3M448.48,368.25v1.3M448.48,450.25v-1.3M452.22,368.25v1.3M452.22,450.25v-1.3M455.27,368.25v1.3M455.27,450.25v-1.3M457.86,368.25v1.3M457.86,450.25v-1.3M460.09,368.25v1.3M460.09,450.25v-1.3M462.07,368.25v1.3M462.07,450.25v-1.3M475.45,368.25v1.3M475.45,450.25v-1.3M482.24,368.25v1.3M482.24,450.25v-1.3M487.06,368.25v1.3M487.06,450.25v-1.3M490.8,368.25v1.3M490.8,450.25v-1.3M493.86,368.25v1.3M493.86,450.25v-1.3M496.44,368.25v1.3M496.44,450.25v-1.3M498.68,368.25v1.3M498.68,450.25v-1.3M500.65,368.25v1.3M500.65,450.25v-1.3M514.03,368.25v1.3M514.03,450.25v-1.3M520.83,368.25v1.3M520.83,450.25v-1.3M525.65,368.25v1.3M525.65,450.25v-1.3M529.39,368.25v1.3M529.39,450.25v-1.3M532.44,368.25v1.3M532.44,450.25v-1.3M535.02,368.25v1.3M535.02,450.25v-1.3M537.26,368.25v1.3M537.26,450.25v-1.3M539.23,368.25v1.3M539.23,450.25v-1.3M463.83,368.25v2M463.83,450.25v-2M502.42,368.25v2M502.42,450.25v-2M425.25,384.01h2M541,384.01h-2" stroke="#777" stroke-width="0.8" fill="none"/>
<path d="M425.25,368.78 L436.86,437.8 L443.66,448.53 L448.48,449.59 L455.27,450.12 L460.09,450.25 L541,450.25" fill="none" stroke="#0072BD" stroke-width="3.25" stroke-linejoin="round" stroke-linecap="butt"/>
<path d="M425.25,370.77 L436.86,438.33 L443.66,448.53 L448.48,449.59 L455.27,450.12 L460.09,450.25 L537.26,450.25" fill="none" stroke="#D95319" stroke-width="3.25" stroke-linejoin="round" stroke-linecap="butt"/>
<path d="M425.25,368.78 L436.86,437.8 L443.66,448.53 L448.48,449.59 L455.27,450.12 L460.09,450.25 L529.39,450.25" fill="none" stroke="#EDB120" stroke-width="3.25" stroke-linejoin="round" stroke-linecap="butt"/>
<path d="M425.25,368.78 L436.86,437.8 L443.66,448.53 L448.48,449.59 L455.27,450.12 L460.09,450.25 L514.03,450.25" fill="none" stroke="#7E2F8E" stroke-width="3.25" stroke-linejoin="round" stroke-linecap="butt"/>
<text x="418.65" y="455.55" text-anchor="end" font-size="15.4" font-family="Liberation Serif" fill="#262626">0</text>
<text x="418.65" y="389.31" text-anchor="end" font-size="15.4" font-family="Liberation Serif" fill="#262626">500</text>
<text x="426.25" y="476.55" text-anchor="middle" font-size="16" font-family="Liberation Serif" fill="#262626">10<tspan font-size="13" dy="-8">0</tspan></text>
<text x="464.83" y="476.55" text-anchor="middle" font-size="16" font-family="Liberation Serif" fill="#262626">10<tspan font-size="13" dy="-8">1</tspan></text>
<text x="503.42" y="476.55" text-anchor="middle" font-size="16" font-family="Liberation Serif" fill="#262626">10<tspan font-size="13" dy="-8">2</tspan></text>
<text x="542" y="476.55" text-anchor="middle" font-size="16" font-family="Liberation Serif" fill="#262626">10<tspan font-size="13" dy="-8">3</tspan></text>
<text x="484.62" y="364.55" text-anchor="middle" font-size="16" font-weight="bold" font-family="Liberation Serif" fill="#000">F11</text>
<text x="484.62" y="496" text-anchor="middle" font-size="12.4" font-weight="bold" font-family="Liberation Serif" fill="#262626">Iterations</text>
<text transform="translate(387.1,407.75) rotate(-90)" text-anchor="middle" font-size="12.4" font-weight="bold" font-family="Liberation Serif" fill="#262626">Best score obtained</text>
<text x="466" y="513" text-anchor="middle" font-size="16" font-family="Liberation Serif" fill="#000">(K)</text>
<rect x="598.5" y="368.25" width="132.5" height="82" fill="none" stroke="#3a3a3a" stroke-width="1.1"/>
<path d="M611.8,368.25v1.3M611.8,450.25v-1.3M619.57,368.25v1.3M619.57,450.25v-1.3M625.09,368.25v1.3M625.09,450.25v-1.3M629.37,368.25v1.3M629.37,450.25v-1.3M632.87,368.25v1.3M632.87,450.25v-1.3M635.83,368.25v1.3M635.83,450.25v-1.3M638.39,368.25v1.3M638.39,450.25v-1.3M640.65,368.25v1.3M640.65,450.25v-1.3M655.96,368.25v1.3M655.96,450.25v-1.3M663.74,368.25v1.3M663.74,450.25v-1.3M669.26,368.25v1.3M669.26,450.25v-1.3M673.54,368.25v1.3M673.54,450.25v-1.3M677.04,368.25v1.3M677.04,450.25v-1.3M679.99,368.25v1.3M679.99,450.25v-1.3M682.55,368.25v1.3M682.55,450.25v-1.3M684.81,368.25v1.3M684.81,450.25v-1.3M700.13,368.25v1.3M700.13,450.25v-1.3M707.91,368.25v1.3M707.91,450.25v-1.3M713.42,368.25v1.3M713.42,450.25v-1.3M717.7,368.25v1.3M717.7,450.25v-1.3M721.2,368.25v1.3M721.2,450.25v-1.3M724.16,368.25v1.3M724.16,450.25v-1.3M726.72,368.25v1.3M726.72,450.25v-1.3M728.98,368.25v1.3M728.98,450.25v-1.3M642.67,368.25v2M642.67,450.25v-2M686.83,368.25v2M686.83,450.25v-2M598.5,385.17h2M731,385.17h-2" stroke="#777" stroke-width="0.8" fill="none"/>
<path d="M598.5,369.55 L611.8,450.25 L731,450.25" fill="none" stroke="#0072BD" stroke-width="3.25" stroke-linejoin="round" stroke-linecap="butt"/>
<path d="M598.5,381.27 L611.8,450.25 L726.72,450.25" fill="none" stroke="#D95319" stroke-width="3.25" stroke-linejoin="round" stroke-linecap="butt"/>
<path d="M598.5,369.55 L611.8,450.25 L717.7,450.25" fill="none" stroke="#EDB120" stroke-width="3.25" stroke-linejoin="round" stroke-linecap="butt"/>
<path d="M598.5,369.55 L611.8,450.25 L700.13,450.25" fill="none" stroke="#7E2F8E" stroke-width="3.25" stroke-linejoin="round" stroke-linecap="butt"/>
<text x="591.9" y="455.55" text-anchor="end" font-size="15.4" font-family="Liberation Serif" fill="#262626">0</text>
<text x="591.9" y="390.47" text-anchor="end" font-size="15.4" font-family="Liberation Serif" fill="#262626">5</text>
<text x="599.5" y="476.55" text-anchor="middle" font-size="16" font-family="Liberation Serif" fill="#262626">10<tspan font-size="13" dy="-8">0</tspan></text>
<text x="643.67" y="476.55" text-anchor="middle" font-size="16" font-family="Liberation Serif" fill="#262626">10<tspan font-size="13" dy="-8">1</tspan></text>
<text x="687.83" y="476.55" text-anchor="middle" font-size="16" font-family="Liberation Serif" fill="#262626">10<tspan font-size="13" dy="-8">2</tspan></text>
<text x="732" y="476.55" text-anchor="middle" font-size="16" font-family="Liberation Serif" fill="#262626">10<tspan font-size="13" dy="-8">3</tspan></text>
<path d="M601.2,357.85L608.6,364.75M601.2,364.75L608.6,357.85" stroke="#333" stroke-width="0.95" fill="none"/>
<text x="611.6" y="365.65" font-size="16" font-family="Liberation Serif" fill="#262626">10</text>
<text x="627.1" y="357.85" font-size="14" font-family="Liberation Serif" fill="#262626">8</text>
<text x="666.25" y="364.55" text-anchor="middle" font-size="16" font-weight="bold" font-family="Liberation Serif" fill="#000">F12</text>
<text x="666.25" y="496" text-anchor="middle" font-size="12.4" font-weight="bold" font-family="Liberation Serif" fill="#262626">Iterations</text>
<text transform="translate(576.7,407.75) rotate(-90)" text-anchor="middle" font-size="12.4" font-weight="bold" font-family="Liberation Serif" fill="#262626">Best score obtained</text>
<text x="654.75" y="513" text-anchor="middle" font-size="16" font-family="Liberation Serif" fill="#000">(L)</text>
<rect x="39.25" y="540" width="124.5" height="82.5" fill="none" stroke="#3a3a3a" stroke-width="1.1"/>
<path d="M51.74,540v1.3M51.74,622.5v-1.3M59.05,540v1.3M59.05,622.5v-1.3M64.24,540v1.3M64.24,622.5v-1.3M68.26,540v1.3M68.26,622.5v-1.3M71.54,540v1.3M71.54,622.5v-1.3M74.32,540v1.3M74.32,622.5v-1.3M76.73,540v1.3M76.73,622.5v-1.3M78.85,540v1.3M78.85,622.5v-1.3M93.24,540v1.3M93.24,622.5v-1.3M100.55,540v1.3M100.55,622.5v-1.3M105.74,540v1.3M105.74,622.5v-1.3M109.76,540v1.3M109.76,622.5v-1.3M113.04,540v1.3M113.04,622.5v-1.3M115.82,540v1.3M115.82,622.5v-1.3M118.23,540v1.3M118.23,622.5v-1.3M120.35,540v1.3M120.35,622.5v-1.3M134.74,540v1.3M134.74,622.5v-1.3M142.05,540v1.3M142.05,622.5v-1.3M147.24,540v1.3M147.24,622.5v-1.3M151.26,540v1.3M151.26,622.5v-1.3M154.54,540v1.3M154.54,622.5v-1.3M157.32,540v1.3M157.32,622.5v-1.3M159.73,540v1.3M159.73,622.5v-1.3M161.85,540v1.3M161.85,622.5v-1.3M80.75,540v2M80.75,622.5v-2M122.25,540v2M122.25,622.5v-2M39.25,587.54h2M163.75,587.54h-2M39.25,552.58h2M163.75,552.58h-2" stroke="#777" stroke-width="0.8" fill="none"/>
<path d="M39.25,541.4 L51.74,620.75 L59.05,622.15 L68.26,622.5 L163.75,622.5" fill="none" stroke="#0072BD" stroke-width="3.25" stroke-linejoin="round" stroke-linecap="butt"/>
<path d="M39.25,546.29 L51.74,620.75 L59.05,622.15 L68.26,622.5 L159.73,622.5" fill="none" stroke="#D95319" stroke-width="3.25" stroke-linejoin="round" stroke-linecap="butt"/>
<path d="M39.25,543.85 L51.74,620.75 L59.05,622.15 L68.26,622.5 L151.26,622.5" fill="none" stroke="#EDB120" stroke-width="3.25" stroke-linejoin="round" stroke-linecap="butt"/>
<path d="M39.25,546.64 L51.74,620.75 L59.05,622.15 L68.26,622.5 L134.74,622.5" fill="none" stroke="#7E2F8E" stroke-width="3.25" stroke-linejoin="round" stroke-linecap="butt"/>
<text x="32.65" y="627.8" text-anchor="end" font-size="15.4" font-family="Liberation Serif" fill="#262626">0</text>
<text x="32.65" y="592.84" text-anchor="end" font-size="15.4" font-family="Liberation Serif" fill="#262626">5</text>
<text x="32.65" y="557.88" text-anchor="end" font-size="15.4" font-family="Liberation Serif" fill="#262626">10</text>
<text x="40.25" y="648.8" text-anchor="middle" font-size="16" font-family="Liberation Serif" fill="#262626">10<tspan font-size="13" dy="-8">0</tspan></text>
<text x="81.75" y="648.8" text-anchor="middle" font-size="16" font-family="Liberation Serif" fill="#262626">10<tspan font-size="13" dy="-8">1</tspan></text>
<text x="123.25" y="648.8" text-anchor="middle" font-size="16" font-family="Liberation Serif" fill="#262626">10<tspan font-size="13" dy="-8">2</tspan></text>
<text x="164.75" y="648.8" text-anchor="middle" font-size="16" font-family="Liberation Serif" fill="#262626">10<tspan font-size="13" dy="-8">3</tspan></text>
<path d="M41.95,529.6L49.35,536.5M41.95,536.5L49.35,529.6" stroke="#333" stroke-width="0.95" fill="none"/>
<text x="52.35" y="537.4" font-size="16" font-family="Liberation Serif" fill="#262626">10</text>
<text x="67.85" y="529.6" font-size="14" font-family="Liberation Serif" fill="#262626">8</text>
<text x="103" y="536.3" text-anchor="middle" font-size="16" font-weight="bold" font-family="Liberation Serif" fill="#000">F13</text>
<text x="103" y="668.25" text-anchor="middle" font-size="12.4" font-weight="bold" font-family="Liberation Serif" fill="#262626">Iterations</text>
<text transform="translate(9.7,579.75) rotate(-90)" text-anchor="middle" font-size="12.4" font-weight="bold" font-family="Liberation Serif" fill="#262626">Best score obtained</text>
<text x="87.5" y="685.6" text-anchor="middle" font-size="16" font-family="Liberation Serif" fill="#000">(M)</text>
<rect x="236.5" y="540" width="116" height="82.5" fill="none" stroke="#3a3a3a" stroke-width="1.1"/>
<path d="M248.14,540v1.3M248.14,622.5v-1.3M254.95,540v1.3M254.95,622.5v-1.3M259.78,540v1.3M259.78,622.5v-1.3M263.53,540v1.3M263.53,622.5v-1.3M266.59,540v1.3M266.59,622.5v-1.3M269.18,540v1.3M269.18,622.5v-1.3M271.42,540v1.3M271.42,622.5v-1.3M273.4,540v1.3M273.4,622.5v-1.3M286.81,540v1.3M286.81,622.5v-1.3M293.62,540v1.3M293.62,622.5v-1.3M298.45,540v1.3M298.45,622.5v-1.3M302.19,540v1.3M302.19,622.5v-1.3M305.26,540v1.3M305.26,622.5v-1.3M307.84,540v1.3M307.84,622.5v-1.3M310.09,540v1.3M310.09,622.5v-1.3M312.06,540v1.3M312.06,622.5v-1.3M325.47,540v1.3M325.47,622.5v-1.3M332.28,540v1.3M332.28,622.5v-1.3M337.11,540v1.3M337.11,622.5v-1.3M340.86,540v1.3M340.86,622.5v-1.3M343.92,540v1.3M343.92,622.5v-1.3M346.51,540v1.3M346.51,622.5v-1.3M348.75,540v1.3M348.75,622.5v-1.3M350.73,540v1.3M350.73,622.5v-1.3M275.17,540v2M275.17,622.5v-2M313.83,540v2M313.83,622.5v-2M236.5,583.77h2M352.5,583.77h-2M236.5,545.04h2M352.5,545.04h-2" stroke="#777" stroke-width="0.8" fill="none"/>
<path d="M236.5,576.02 L248.14,618.63 L254.95,620.95 L263.53,621.73 L275.17,622.11 L352.5,622.11" fill="none" stroke="#0072BD" stroke-width="3.25" stroke-linejoin="round" stroke-linecap="butt"/>
<path d="M236.5,571.76 L248.14,616.69 L254.95,620.18 L263.53,621.34 L275.17,621.73 L348.75,621.73" fill="none" stroke="#D95319" stroke-width="3.25" stroke-linejoin="round" stroke-linecap="butt"/>
<path d="M236.5,575.25 L248.14,618.63 L254.95,620.56 L263.53,621.53 L275.17,621.73 L340.86,621.73" fill="none" stroke="#EDB120" stroke-width="3.25" stroke-linejoin="round" stroke-linecap="butt"/>
<path d="M236.5,540.39 L248.14,618.63 L254.95,620.76 L263.53,621.34 L275.17,621.53 L325.47,621.53" fill="none" stroke="#7E2F8E" stroke-width="3.25" stroke-linejoin="round" stroke-linecap="butt"/>
<text x="229.9" y="627.8" text-anchor="end" font-size="15.4" font-family="Liberation Serif" fill="#262626">0</text>
<text x="229.9" y="589.07" text-anchor="end" font-size="15.4" font-family="Liberation Serif" fill="#262626">100</text>
<text x="229.9" y="550.34" text-anchor="end" font-size="15.4" font-family="Liberation Serif" fill="#262626">200</text>
<text x="237.5" y="648.8" text-anchor="middle" font-size="16" font-family="Liberation Serif" fill="#262626">10<tspan font-size="13" dy="-8">0</tspan></text>
<text x="276.17" y="648.8" text-anchor="middle" font-size="16" font-family="Liberation Serif" fill="#262626">10<tspan font-size="13" dy="-8">1</tspan></text>
<text x="314.83" y="648.8" text-anchor="middle" font-size="16" font-family="Liberation Serif" fill="#262626">10<tspan font-size="13" dy="-8">2</tspan></text>
<text x="353.5" y="648.8" text-anchor="middle" font-size="16" font-family="Liberation Serif" fill="#262626">10<tspan font-size="13" dy="-8">3</tspan></text>
<text x="296" y="536.3" text-anchor="middle" font-size="16" font-weight="bold" font-family="Liberation Serif" fill="#000">F14</text>
<text x="296" y="668.25" text-anchor="middle" font-size="12.4" font-weight="bold" font-family="Liberation Serif" fill="#262626">Iterations</text>
<text transform="translate(198.1,579.75) rotate(-90)" text-anchor="middle" font-size="12.4" font-weight="bold" font-family="Liberation Serif" fill="#262626">Best score obtained</text>
<text x="276.5" y="685.6" text-anchor="middle" font-size="16" font-family="Liberation Serif" fill="#000">(N)</text>
<rect x="421.7" y="540" width="119.3" height="82.5" fill="none" stroke="#3a3a3a" stroke-width="1.1"/>
<path d="M433.67,540v1.3M433.67,622.5v-1.3M440.67,540v1.3M440.67,622.5v-1.3M445.64,540v1.3M445.64,622.5v-1.3M449.5,540v1.3M449.5,622.5v-1.3M452.64,540v1.3M452.64,622.5v-1.3M455.31,540v1.3M455.31,622.5v-1.3M457.61,540v1.3M457.61,622.5v-1.3M459.65,540v1.3M459.65,622.5v-1.3M473.44,540v1.3M473.44,622.5v-1.3M480.44,540v1.3M480.44,622.5v-1.3M485.41,540v1.3M485.41,622.5v-1.3M489.26,540v1.3M489.26,622.5v-1.3M492.41,540v1.3M492.41,622.5v-1.3M495.07,540v1.3M495.07,622.5v-1.3M497.38,540v1.3M497.38,622.5v-1.3M499.41,540v1.3M499.41,622.5v-1.3M513.2,540v1.3M513.2,622.5v-1.3M520.21,540v1.3M520.21,622.5v-1.3M525.18,540v1.3M525.18,622.5v-1.3M529.03,540v1.3M529.03,622.5v-1.3M532.18,540v1.3M532.18,622.5v-1.3M534.84,540v1.3M534.84,622.5v-1.3M537.15,540v1.3M537.15,622.5v-1.3M539.18,540v1.3M539.18,622.5v-1.3M461.47,540v2M461.47,622.5v-2M501.23,540v2M501.23,622.5v-2M421.7,570.69h2M541,570.69h-2" stroke="#777" stroke-width="0.8" fill="none"/>
<path d="M421.7,540 L433.67,612.92 L440.67,618.87 L445.64,620.95 L461.47,621.98 L473.44,622.24 L541,622.24" fill="none" stroke="#0072BD" stroke-width="3.25" stroke-linejoin="round" stroke-linecap="butt"/>
<path d="M421.7,580.02 L433.67,615.25 L440.67,619.65 L445.64,620.95 L461.47,621.98 L473.44,622.24 L537.15,622.24" fill="none" stroke="#D95319" stroke-width="3.25" stroke-linejoin="round" stroke-linecap="butt"/>
<path d="M421.7,568.62 L433.67,612.92 L440.67,618.87 L445.64,620.95 L461.47,621.98 L473.44,622.24 L529.03,622.24" fill="none" stroke="#EDB120" stroke-width="3.25" stroke-linejoin="round" stroke-linecap="butt"/>
<path d="M421.7,585.98 L433.67,612.92 L440.67,618.61 L445.64,620.95 L461.47,621.98 L473.44,622.24 L513.2,622.24" fill="none" stroke="#7E2F8E" stroke-width="3.25" stroke-linejoin="round" stroke-linecap="butt"/>
<text x="415.1" y="627.8" text-anchor="end" font-size="15.4" font-family="Liberation Serif" fill="#262626">0</text>
<text x="415.1" y="575.99" text-anchor="end" font-size="15.4" font-family="Liberation Serif" fill="#262626">0.2</text>
<text x="422.7" y="648.8" text-anchor="middle" font-size="16" font-family="Liberation Serif" fill="#262626">10<tspan font-size="13" dy="-8">0</tspan></text>
<text x="462.47" y="648.8" text-anchor="middle" font-size="16" font-family="Liberation Serif" fill="#262626">10<tspan font-size="13" dy="-8">1</tspan></text>
<text x="502.23" y="648.8" text-anchor="middle" font-size="16" font-family="Liberation Serif" fill="#262626">10<tspan font-size="13" dy="-8">2</tspan></text>
<text x="542" y="648.8" text-anchor="middle" font-size="16" font-family="Liberation Serif" fill="#262626">10<tspan font-size="13" dy="-8">3</tspan></text>
<text x="482.85" y="536.3" text-anchor="middle" font-size="16" font-weight="bold" font-family="Liberation Serif" fill="#000">F15</text>
<text x="482.85" y="668.25" text-anchor="middle" font-size="12.4" font-weight="bold" font-family="Liberation Serif" fill="#262626">Iterations</text>
<text transform="translate(387.1,579.75) rotate(-90)" text-anchor="middle" font-size="12.4" font-weight="bold" font-family="Liberation Serif" fill="#262626">Best score obtained</text>
<text x="466" y="685.6" text-anchor="middle" font-size="16" font-family="Liberation Serif" fill="#000">(O)</text>
<rect x="603.5" y="540" width="127.5" height="82.5" fill="none" stroke="#3a3a3a" stroke-width="1.1"/>
<path d="M616.29,540v1.3M616.29,622.5v-1.3M623.78,540v1.3M623.78,622.5v-1.3M629.09,540v1.3M629.09,622.5v-1.3M633.21,540v1.3M633.21,622.5v-1.3M636.57,540v1.3M636.57,622.5v-1.3M639.42,540v1.3M639.42,622.5v-1.3M641.88,540v1.3M641.88,622.5v-1.3M644.06,540v1.3M644.06,622.5v-1.3M658.79,540v1.3M658.79,622.5v-1.3M666.28,540v1.3M666.28,622.5v-1.3M671.59,540v1.3M671.59,622.5v-1.3M675.71,540v1.3M675.71,622.5v-1.3M679.07,540v1.3M679.07,622.5v-1.3M681.92,540v1.3M681.92,622.5v-1.3M684.38,540v1.3M684.38,622.5v-1.3M686.56,540v1.3M686.56,622.5v-1.3M701.29,540v1.3M701.29,622.5v-1.3M708.78,540v1.3M708.78,622.5v-1.3M714.09,540v1.3M714.09,622.5v-1.3M718.21,540v1.3M718.21,622.5v-1.3M721.57,540v1.3M721.57,622.5v-1.3M724.42,540v1.3M724.42,622.5v-1.3M726.88,540v1.3M726.88,622.5v-1.3M729.06,540v1.3M729.06,622.5v-1.3M646,540v2M646,622.5v-2M688.5,540v2M688.5,622.5v-2M603.5,621.22h2M731,621.22h-2M603.5,580.61h2M731,580.61h-2" stroke="#777" stroke-width="0.8" fill="none"/>
<path d="M603.5,570.46 L616.29,615.13 L623.78,620.4 L629.09,622.5 L731,622.5" fill="none" stroke="#0072BD" stroke-width="3.25" stroke-linejoin="round" stroke-linecap="butt"/>
<path d="M603.5,560.3 L616.29,615.13 L623.78,620.4 L629.09,622.5 L726.88,622.5" fill="none" stroke="#D95319" stroke-width="3.25" stroke-linejoin="round" stroke-linecap="butt"/>
<path d="M603.5,540 L616.29,617.16 L623.78,621.22 L629.09,622.5 L718.21,622.5" fill="none" stroke="#EDB120" stroke-width="3.25" stroke-linejoin="round" stroke-linecap="butt"/>
<path d="M603.5,554.21 L616.29,615.13 L623.78,620.4 L629.09,622.5 L701.29,622.5" fill="none" stroke="#7E2F8E" stroke-width="3.25" stroke-linejoin="round" stroke-linecap="butt"/>
<text x="596.9" y="626.52" text-anchor="end" font-size="15.4" font-family="Liberation Serif" fill="#262626">-1</text>
<text x="596.9" y="585.91" text-anchor="end" font-size="15.4" font-family="Liberation Serif" fill="#262626">0</text>
<text x="596.9" y="545.3" text-anchor="end" font-size="15.4" font-family="Liberation Serif" fill="#262626">1</text>
<text x="604.5" y="648.8" text-anchor="middle" font-size="16" font-family="Liberation Serif" fill="#262626">10<tspan font-size="13" dy="-8">0</tspan></text>
<text x="647" y="648.8" text-anchor="middle" font-size="16" font-family="Liberation Serif" fill="#262626">10<tspan font-size="13" dy="-8">1</tspan></text>
<text x="689.5" y="648.8" text-anchor="middle" font-size="16" font-family="Liberation Serif" fill="#262626">10<tspan font-size="13" dy="-8">2</tspan></text>
<text x="732" y="648.8" text-anchor="middle" font-size="16" font-family="Liberation Serif" fill="#262626">10<tspan font-size="13" dy="-8">3</tspan></text>
<text x="668.75" y="536.3" text-anchor="middle" font-size="16" font-weight="bold" font-family="Liberation Serif" fill="#000">F16</text>
<text x="668.75" y="668.25" text-anchor="middle" font-size="12.4" font-weight="bold" font-family="Liberation Serif" fill="#262626">Iterations</text>
<text transform="translate(576.7,579.75) rotate(-90)" text-anchor="middle" font-size="12.4" font-weight="bold" font-family="Liberation Serif" fill="#262626">Best score obtained</text>
<text x="654.75" y="685.6" text-anchor="middle" font-size="16" font-family="Liberation Serif" fill="#000">(P)</text>
<rect x="31.25" y="712.5" width="132.5" height="83" fill="none" stroke="#3a3a3a" stroke-width="1.1"/>
<path d="M44.55,712.5v1.3M44.55,795.5v-1.3M52.32,712.5v1.3M52.32,795.5v-1.3M57.84,712.5v1.3M57.84,795.5v-1.3M62.12,712.5v1.3M62.12,795.5v-1.3M65.62,712.5v1.3M65.62,795.5v-1.3M68.58,712.5v1.3M68.58,795.5v-1.3M71.14,712.5v1.3M71.14,795.5v-1.3M73.4,712.5v1.3M73.4,795.5v-1.3M88.71,712.5v1.3M88.71,795.5v-1.3M96.49,712.5v1.3M96.49,795.5v-1.3M102.01,712.5v1.3M102.01,795.5v-1.3M106.29,712.5v1.3M106.29,795.5v-1.3M109.79,712.5v1.3M109.79,795.5v-1.3M112.74,712.5v1.3M112.74,795.5v-1.3M115.3,712.5v1.3M115.3,795.5v-1.3M117.56,712.5v1.3M117.56,795.5v-1.3M132.88,712.5v1.3M132.88,795.5v-1.3M140.66,712.5v1.3M140.66,795.5v-1.3M146.17,712.5v1.3M146.17,795.5v-1.3M150.45,712.5v1.3M150.45,795.5v-1.3M153.95,712.5v1.3M153.95,795.5v-1.3M156.91,712.5v1.3M156.91,795.5v-1.3M159.47,712.5v1.3M159.47,795.5v-1.3M161.73,712.5v1.3M161.73,795.5v-1.3M75.42,712.5v2M75.42,795.5v-2M119.58,712.5v2M119.58,795.5v-2M31.25,761.2h2M163.75,761.2h-2M31.25,726.9h2M163.75,726.9h-2" stroke="#777" stroke-width="0.8" fill="none"/>
<path d="M31.25,754.34 L44.55,772.18 L52.32,777.67 L57.84,780.41 L62.12,781.44 L65.62,781.78 L71.14,781.85 L163.75,781.85" fill="none" stroke="#0072BD" stroke-width="3.25" stroke-linejoin="round" stroke-linecap="butt"/>
<path d="M31.25,726.9 L44.55,768.06 L52.32,775.61 L57.84,779.72 L62.12,781.1 L65.62,781.78 L71.14,781.85 L159.47,781.85" fill="none" stroke="#D95319" stroke-width="3.25" stroke-linejoin="round" stroke-linecap="butt"/>
<path d="M31.25,735.48 L44.55,768.75 L52.32,775.95 L57.84,779.72 L62.12,781.1 L65.62,781.78 L71.14,781.85 L150.45,781.85" fill="none" stroke="#EDB120" stroke-width="3.25" stroke-linejoin="round" stroke-linecap="butt"/>
<path d="M31.25,714.9 L44.55,766.35 L52.32,774.92 L57.84,779.38 L62.12,781.1 L65.62,781.78 L71.14,781.85 L132.88,781.85" fill="none" stroke="#7E2F8E" stroke-width="3.25" stroke-linejoin="round" stroke-linecap="butt"/>
<text x="24.65" y="800.8" text-anchor="end" font-size="15.4" font-family="Liberation Serif" fill="#262626">0</text>
<text x="24.65" y="766.5" text-anchor="end" font-size="15.4" font-family="Liberation Serif" fill="#262626">1</text>
<text x="24.65" y="732.2" text-anchor="end" font-size="15.4" font-family="Liberation Serif" fill="#262626">2</text>
<text x="32.25" y="821.8" text-anchor="middle" font-size="16" font-family="Liberation Serif" fill="#262626">10<tspan font-size="13" dy="-8">0</tspan></text>
<text x="76.42" y="821.8" text-anchor="middle" font-size="16" font-family="Liberation Serif" fill="#262626">10<tspan font-size="13" dy="-8">1</tspan></text>
<text x="120.58" y="821.8" text-anchor="middle" font-size="16" font-family="Liberation Serif" fill="#262626">10<tspan font-size="13" dy="-8">2</tspan></text>
<text x="164.75" y="821.8" text-anchor="middle" font-size="16" font-family="Liberation Serif" fill="#262626">10<tspan font-size="13" dy="-8">3</tspan></text>
<text x="99" y="708.8" text-anchor="middle" font-size="16" font-weight="bold" font-family="Liberation Serif" fill="#000">F17</text>
<text x="99" y="841.25" text-anchor="middle" font-size="12.4" font-weight="bold" font-family="Liberation Serif" fill="#262626">Iterations</text>
<text transform="translate(9.7,752.5) rotate(-90)" text-anchor="middle" font-size="12.4" font-weight="bold" font-family="Liberation Serif" fill="#262626">Best score obtained</text>
<text x="87.5" y="859" text-anchor="middle" font-size="16" font-family="Liberation Serif" fill="#000">(Q)</text>
<rect x="236.3" y="712.4" width="116.2" height="83.1" fill="none" stroke="#3a3a3a" stroke-width="1.1"/>
<path d="M247.96,712.4v1.3M247.96,795.5v-1.3M254.78,712.4v1.3M254.78,795.5v-1.3M259.62,712.4v1.3M259.62,795.5v-1.3M263.37,712.4v1.3M263.37,795.5v-1.3M266.44,712.4v1.3M266.44,795.5v-1.3M269.03,712.4v1.3M269.03,795.5v-1.3M271.28,712.4v1.3M271.28,795.5v-1.3M273.26,712.4v1.3M273.26,795.5v-1.3M286.69,712.4v1.3M286.69,795.5v-1.3M293.51,712.4v1.3M293.51,795.5v-1.3M298.35,712.4v1.3M298.35,795.5v-1.3M302.11,712.4v1.3M302.11,795.5v-1.3M305.17,712.4v1.3M305.17,795.5v-1.3M307.77,712.4v1.3M307.77,795.5v-1.3M310.01,712.4v1.3M310.01,795.5v-1.3M311.99,712.4v1.3M311.99,795.5v-1.3M325.43,712.4v1.3M325.43,795.5v-1.3M332.25,712.4v1.3M332.25,795.5v-1.3M337.09,712.4v1.3M337.09,795.5v-1.3M340.84,712.4v1.3M340.84,795.5v-1.3M343.91,712.4v1.3M343.91,795.5v-1.3M346.5,712.4v1.3M346.5,795.5v-1.3M348.75,712.4v1.3M348.75,795.5v-1.3M350.73,712.4v1.3M350.73,795.5v-1.3M275.03,712.4v2M275.03,795.5v-2M313.77,712.4v2M313.77,795.5v-2M236.3,754.76h2M352.5,754.76h-2M236.3,714.03h2M352.5,714.03h-2" stroke="#777" stroke-width="0.8" fill="none"/>
<path d="M236.3,722.99 L247.96,784.99 L254.78,788.98 L259.62,790.61 L263.37,791.83 L266.44,792.65 L269.03,793.06 L352.5,793.06" fill="none" stroke="#0072BD" stroke-width="3.25" stroke-linejoin="round" stroke-linecap="butt"/>
<path d="M236.3,716.96 L247.96,781.81 L254.78,786.38 L259.62,787.11 L263.37,788.41 L266.44,791.83 L269.03,793.06 L348.75,793.06" fill="none" stroke="#D95319" stroke-width="3.25" stroke-linejoin="round" stroke-linecap="butt"/>
<path d="M236.3,755.66 L247.96,786.95 L254.78,790.61 L259.62,792.24 L263.37,792.89 L266.44,793.06 L340.84,793.06" fill="none" stroke="#EDB120" stroke-width="3.25" stroke-linejoin="round" stroke-linecap="butt"/>
<path d="M236.3,750.37 L247.96,787.76 L254.78,791.02 L259.62,792.4 L263.37,793.06 L266.44,793.06 L325.43,793.06" fill="none" stroke="#7E2F8E" stroke-width="3.25" stroke-linejoin="round" stroke-linecap="butt"/>
<text x="229.7" y="800.8" text-anchor="end" font-size="15.4" font-family="Liberation Serif" fill="#262626">0</text>
<text x="229.7" y="760.06" text-anchor="end" font-size="15.4" font-family="Liberation Serif" fill="#262626">50</text>
<text x="229.7" y="719.33" text-anchor="end" font-size="15.4" font-family="Liberation Serif" fill="#262626">100</text>
<text x="237.3" y="821.8" text-anchor="middle" font-size="16" font-family="Liberation Serif" fill="#262626">10<tspan font-size="13" dy="-8">0</tspan></text>
<text x="276.03" y="821.8" text-anchor="middle" font-size="16" font-family="Liberation Serif" fill="#262626">10<tspan font-size="13" dy="-8">1</tspan></text>
<text x="314.77" y="821.8" text-anchor="middle" font-size="16" font-family="Liberation Serif" fill="#262626">10<tspan font-size="13" dy="-8">2</tspan></text>
<text x="353.5" y="821.8" text-anchor="middle" font-size="16" font-family="Liberation Serif" fill="#262626">10<tspan font-size="13" dy="-8">3</tspan></text>
<text x="295.9" y="708.7" text-anchor="middle" font-size="16" font-weight="bold" font-family="Liberation Serif" fill="#000">F18</text>
<text x="295.9" y="841.25" text-anchor="middle" font-size="12.4" font-weight="bold" font-family="Liberation Serif" fill="#262626">Iterations</text>
<text transform="translate(198.1,752.45) rotate(-90)" text-anchor="middle" font-size="12.4" font-weight="bold" font-family="Liberation Serif" fill="#262626">Best score obtained</text>
<text x="276.5" y="859" text-anchor="middle" font-size="16" font-family="Liberation Serif" fill="#000">(R)</text>
<rect x="426.8" y="713" width="114.2" height="83" fill="none" stroke="#3a3a3a" stroke-width="1.1"/>
<path d="M438.26,713v1.3M438.26,796v-1.3M444.96,713v1.3M444.96,796v-1.3M449.72,713v1.3M449.72,796v-1.3M453.41,713v1.3M453.41,796v-1.3M456.42,713v1.3M456.42,796v-1.3M458.97,713v1.3M458.97,796v-1.3M461.18,713v1.3M461.18,796v-1.3M463.12,713v1.3M463.12,796v-1.3M476.33,713v1.3M476.33,796v-1.3M483.03,713v1.3M483.03,796v-1.3M487.79,713v1.3M487.79,796v-1.3M491.47,713v1.3M491.47,796v-1.3M494.49,713v1.3M494.49,796v-1.3M497.04,713v1.3M497.04,796v-1.3M499.24,713v1.3M499.24,796v-1.3M501.19,713v1.3M501.19,796v-1.3M514.39,713v1.3M514.39,796v-1.3M521.1,713v1.3M521.1,796v-1.3M525.85,713v1.3M525.85,796v-1.3M529.54,713v1.3M529.54,796v-1.3M532.55,713v1.3M532.55,796v-1.3M535.1,713v1.3M535.1,796v-1.3M537.31,713v1.3M537.31,796v-1.3M539.26,713v1.3M539.26,796v-1.3M464.87,713v2M464.87,796v-2M502.93,713v2M502.93,796v-2M426.8,754.5h2M541,754.5h-2" stroke="#777" stroke-width="0.8" fill="none"/>
<path d="M426.8,735.41 L438.26,766.95 L444.96,777.74 L449.72,781.89 L453.41,783.55 L456.42,784.38 L461.18,784.61 L541,784.61" fill="none" stroke="#0072BD" stroke-width="3.25" stroke-linejoin="round" stroke-linecap="butt"/>
<path d="M426.8,737.9 L438.26,766.95 L444.96,774.42 L449.72,779.4 L453.41,782.72 L456.42,783.97 L461.18,784.55 L464.87,784.61 L537.31,784.61" fill="none" stroke="#D95319" stroke-width="3.25" stroke-linejoin="round" stroke-linecap="butt"/>
<path d="M426.8,730.43 L438.26,766.95 L444.96,774.42 L449.72,779.4 L453.41,782.72 L456.42,783.97 L461.18,784.55 L464.87,784.61 L529.54,784.61" fill="none" stroke="#EDB120" stroke-width="3.25" stroke-linejoin="round" stroke-linecap="butt"/>
<path d="M426.8,727.94 L438.26,764.29 L444.96,771.76 L449.72,777.74 L453.41,781.89 L456.42,783.55 L461.18,784.55 L464.87,784.61 L514.39,784.61" fill="none" stroke="#7E2F8E" stroke-width="3.25" stroke-linejoin="round" stroke-linecap="butt"/>
<text x="420.2" y="801.3" text-anchor="end" font-size="15.4" font-family="Liberation Serif" fill="#262626">-4</text>
<text x="420.2" y="759.8" text-anchor="end" font-size="15.4" font-family="Liberation Serif" fill="#262626">-3.5</text>
<text x="420.2" y="718.3" text-anchor="end" font-size="15.4" font-family="Liberation Serif" fill="#262626">-3</text>
<text x="427.8" y="822.3" text-anchor="middle" font-size="16" font-family="Liberation Serif" fill="#262626">10<tspan font-size="13" dy="-8">0</tspan></text>
<text x="465.87" y="822.3" text-anchor="middle" font-size="16" font-family="Liberation Serif" fill="#262626">10<tspan font-size="13" dy="-8">1</tspan></text>
<text x="503.93" y="822.3" text-anchor="middle" font-size="16" font-family="Liberation Serif" fill="#262626">10<tspan font-size="13" dy="-8">2</tspan></text>
<text x="542" y="822.3" text-anchor="middle" font-size="16" font-family="Liberation Serif" fill="#262626">10<tspan font-size="13" dy="-8">3</tspan></text>
<text x="485.4" y="709.3" text-anchor="middle" font-size="16" font-weight="bold" font-family="Liberation Serif" fill="#000">F19</text>
<text x="485.4" y="841.75" text-anchor="middle" font-size="12.4" font-weight="bold" font-family="Liberation Serif" fill="#262626">Iterations</text>
<text transform="translate(387.1,753) rotate(-90)" text-anchor="middle" font-size="12.4" font-weight="bold" font-family="Liberation Serif" fill="#262626">Best score obtained</text>
<text x="466" y="862" text-anchor="middle" font-size="16" font-family="Liberation Serif" fill="#000">(S)</text>
<rect x="615.5" y="712.5" width="115" height="83" fill="none" stroke="#3a3a3a" stroke-width="1.1"/>
<path d="M627.04,712.5v1.3M627.04,795.5v-1.3M633.79,712.5v1.3M633.79,795.5v-1.3M638.58,712.5v1.3M638.58,795.5v-1.3M642.29,712.5v1.3M642.29,795.5v-1.3M645.33,712.5v1.3M645.33,795.5v-1.3M647.9,712.5v1.3M647.9,795.5v-1.3M650.12,712.5v1.3M650.12,795.5v-1.3M652.08,712.5v1.3M652.08,795.5v-1.3M665.37,712.5v1.3M665.37,795.5v-1.3M672.12,712.5v1.3M672.12,795.5v-1.3M676.91,712.5v1.3M676.91,795.5v-1.3M680.63,712.5v1.3M680.63,795.5v-1.3M683.66,712.5v1.3M683.66,795.5v-1.3M686.23,712.5v1.3M686.23,795.5v-1.3M688.45,712.5v1.3M688.45,795.5v-1.3M690.41,712.5v1.3M690.41,795.5v-1.3M703.71,712.5v1.3M703.71,795.5v-1.3M710.46,712.5v1.3M710.46,795.5v-1.3M715.25,712.5v1.3M715.25,795.5v-1.3M718.96,712.5v1.3M718.96,795.5v-1.3M722,712.5v1.3M722,795.5v-1.3M724.56,712.5v1.3M724.56,795.5v-1.3M726.79,712.5v1.3M726.79,795.5v-1.3M728.75,712.5v1.3M728.75,795.5v-1.3M653.83,712.5v2M653.83,795.5v-2M692.17,712.5v2M692.17,795.5v-2M615.5,735h2M730.5,735h-2M615.5,757.6h2M730.5,757.6h-2M615.5,780.1h2M730.5,780.1h-2" stroke="#777" stroke-width="0.8" fill="none"/>
<path d="M615.5,717.5 L620,730.9 L625.01,745 L630.01,757.6 L635.02,766.7 L640.01,773.4 L644.18,781.8 L648.36,788.4 L655.11,793.4 L665.12,795.1 L676.91,795.4 L730.5,795.4" fill="none" stroke="#0072BD" stroke-width="3.25" stroke-linejoin="round" stroke-linecap="butt"/>
<path d="M615.5,722.5 L620,735.9 L625.01,749.2 L630.01,760.1 L635.02,767.6 L640.01,773.4 L644.18,781.8 L648.36,787.6 L655.11,792.6 L665.12,795 L676.91,795.2 L726.79,795.2" fill="none" stroke="#D95319" stroke-width="3.25" stroke-linejoin="round" stroke-linecap="butt"/>
<path d="M615.5,713.3 L620,728.4 L625.01,742.5 L630.01,755.1 L635.02,765.1 L640.01,771.8 L644.18,778.4 L648.36,786.8 L655.11,791.8 L665.12,795 L676.91,795.2 L718.96,795.2" fill="none" stroke="#EDB120" stroke-width="3.25" stroke-linejoin="round" stroke-linecap="butt"/>
<path d="M615.5,715.8 L620,730 L625.01,745 L630.01,756.7 L635.02,765.9 L640.01,771.8 L644.18,778.4 L648.36,786.8 L655.11,791.8 L665.12,794.8 L676.91,795.4 L703.71,795.4" fill="none" stroke="#7E2F8E" stroke-width="3.25" stroke-linejoin="round" stroke-linecap="butt"/>
<text x="608.9" y="740.3" text-anchor="end" font-size="15.4" font-family="Liberation Serif" fill="#262626">-2</text>
<text x="608.9" y="762.9" text-anchor="end" font-size="15.4" font-family="Liberation Serif" fill="#262626">-2.5</text>
<text x="608.9" y="785.4" text-anchor="end" font-size="15.4" font-family="Liberation Serif" fill="#262626">-3</text>
<text x="616.5" y="821.8" text-anchor="middle" font-size="16" font-family="Liberation Serif" fill="#262626">10<tspan font-size="13" dy="-8">0</tspan></text>
<text x="654.83" y="821.8" text-anchor="middle" font-size="16" font-family="Liberation Serif" fill="#262626">10<tspan font-size="13" dy="-8">1</tspan></text>
<text x="693.17" y="821.8" text-anchor="middle" font-size="16" font-family="Liberation Serif" fill="#262626">10<tspan font-size="13" dy="-8">2</tspan></text>
<text x="731.5" y="821.8" text-anchor="middle" font-size="16" font-family="Liberation Serif" fill="#262626">10<tspan font-size="13" dy="-8">3</tspan></text>
<text x="674.5" y="708.8" text-anchor="middle" font-size="16" font-weight="bold" font-family="Liberation Serif" fill="#000">F20</text>
<text x="674.5" y="841.25" text-anchor="middle" font-size="12.4" font-weight="bold" font-family="Liberation Serif" fill="#262626">Iterations</text>
<text transform="translate(576.7,752.5) rotate(-90)" text-anchor="middle" font-size="12.4" font-weight="bold" font-family="Liberation Serif" fill="#262626">Best score obtained</text>
<text x="654.75" y="859" text-anchor="middle" font-size="16" font-family="Liberation Serif" fill="#000">(T)</text>
<rect x="44.7" y="897.8" width="118.9" height="82.7" fill="none" stroke="#3a3a3a" stroke-width="1.1"/>
<path d="M56.63,897.8v1.3M56.63,980.5v-1.3M63.61,897.8v1.3M63.61,980.5v-1.3M68.56,897.8v1.3M68.56,980.5v-1.3M72.4,897.8v1.3M72.4,980.5v-1.3M75.54,897.8v1.3M75.54,980.5v-1.3M78.19,897.8v1.3M78.19,980.5v-1.3M80.49,897.8v1.3M80.49,980.5v-1.3M82.52,897.8v1.3M82.52,980.5v-1.3M96.26,897.8v1.3M96.26,980.5v-1.3M103.24,897.8v1.3M103.24,980.5v-1.3M108.19,897.8v1.3M108.19,980.5v-1.3M112.04,897.8v1.3M112.04,980.5v-1.3M115.17,897.8v1.3M115.17,980.5v-1.3M117.83,897.8v1.3M117.83,980.5v-1.3M120.13,897.8v1.3M120.13,980.5v-1.3M122.15,897.8v1.3M122.15,980.5v-1.3M135.9,897.8v1.3M135.9,980.5v-1.3M142.88,897.8v1.3M142.88,980.5v-1.3M147.83,897.8v1.3M147.83,980.5v-1.3M151.67,897.8v1.3M151.67,980.5v-1.3M154.81,897.8v1.3M154.81,980.5v-1.3M157.46,897.8v1.3M157.46,980.5v-1.3M159.76,897.8v1.3M159.76,980.5v-1.3M161.79,897.8v1.3M161.79,980.5v-1.3M84.33,897.8v2M84.33,980.5v-2M123.97,897.8v2M123.97,980.5v-2M44.7,938.7h2M163.6,938.7h-2" stroke="#777" stroke-width="0.8" fill="none"/>
<path d="M44.7,903 L56.54,908.2 L62.61,912.6 L67.81,917.8 L73.01,927.3 L76.38,936.9 L79.83,949 L83.45,959.4 L86.89,969 L92.1,975.9 L100.71,978.8 L109.44,979.9 L163.6,980.2" fill="none" stroke="#0072BD" stroke-width="3.25" stroke-linejoin="round" stroke-linecap="butt"/>
<path d="M44.7,903.5 L56.54,910.8 L62.61,918.6 L67.81,927.3 L73.01,940.3 L78.19,954.2 L83.45,962.9 L88.58,969.8 L93.77,973 L100.78,974.2 L109.44,975 L114.59,975.9 L126.82,977.6 L159.76,978.9" fill="none" stroke="#D95319" stroke-width="3.25" stroke-linejoin="round" stroke-linecap="butt"/>
<path d="M44.7,901.3 L56.54,909 L62.61,918.6 L67.81,929 L73.01,942 L78.19,954.2 L83.45,964.6 L92.1,976.8 L96.26,979.4 L108.19,980.2 L151.67,980.2" fill="none" stroke="#EDB120" stroke-width="3.25" stroke-linejoin="round" stroke-linecap="butt"/>
<path d="M44.7,903 L56.54,908.2 L62.61,916 L67.81,923 L73.01,935.1 L78.19,949 L82.52,961.2 L86.89,969.8 L92.1,975.9 L100.71,978.5 L109.44,979.7 L135.9,980.2" fill="none" stroke="#7E2F8E" stroke-width="3.25" stroke-linejoin="round" stroke-linecap="butt"/>
<text x="38.1" y="903.1" text-anchor="end" font-size="15.4" font-family="Liberation Serif" fill="#262626">0</text>
<text x="38.1" y="944" text-anchor="end" font-size="15.4" font-family="Liberation Serif" fill="#262626">-5</text>
<text x="38.1" y="985" text-anchor="end" font-size="15.4" font-family="Liberation Serif" fill="#262626">-10</text>
<text x="45.7" y="1006.8" text-anchor="middle" font-size="16" font-family="Liberation Serif" fill="#262626">10<tspan font-size="13" dy="-8">0</tspan></text>
<text x="85.33" y="1006.8" text-anchor="middle" font-size="16" font-family="Liberation Serif" fill="#262626">10<tspan font-size="13" dy="-8">1</tspan></text>
<text x="124.97" y="1006.8" text-anchor="middle" font-size="16" font-family="Liberation Serif" fill="#262626">10<tspan font-size="13" dy="-8">2</tspan></text>
<text x="164.6" y="1006.8" text-anchor="middle" font-size="16" font-family="Liberation Serif" fill="#262626">10<tspan font-size="13" dy="-8">3</tspan></text>
<text x="105.65" y="894.5" text-anchor="middle" font-size="16" font-weight="bold" font-family="Liberation Serif" fill="#000">F21</text>
<text x="105.65" y="1026.25" text-anchor="middle" font-size="12.4" font-weight="bold" font-family="Liberation Serif" fill="#262626">Iterations</text>
<text transform="translate(9.7,937.65) rotate(-90)" text-anchor="middle" font-size="12.4" font-weight="bold" font-family="Liberation Serif" fill="#262626">Best score obtained</text>
<text x="87.5" y="1052" text-anchor="middle" font-size="16" font-family="Liberation Serif" fill="#000">(U)</text>
<rect x="233.55" y="897.8" width="118.55" height="83.3" fill="none" stroke="#3a3a3a" stroke-width="1.1"/>
<path d="M245.45,897.8v1.3M245.45,981.1v-1.3M252.4,897.8v1.3M252.4,981.1v-1.3M257.34,897.8v1.3M257.34,981.1v-1.3M261.17,897.8v1.3M261.17,981.1v-1.3M264.3,897.8v1.3M264.3,981.1v-1.3M266.95,897.8v1.3M266.95,981.1v-1.3M269.24,897.8v1.3M269.24,981.1v-1.3M271.26,897.8v1.3M271.26,981.1v-1.3M284.96,897.8v1.3M284.96,981.1v-1.3M291.92,897.8v1.3M291.92,981.1v-1.3M296.86,897.8v1.3M296.86,981.1v-1.3M300.69,897.8v1.3M300.69,981.1v-1.3M303.82,897.8v1.3M303.82,981.1v-1.3M306.46,897.8v1.3M306.46,981.1v-1.3M308.75,897.8v1.3M308.75,981.1v-1.3M310.78,897.8v1.3M310.78,981.1v-1.3M324.48,897.8v1.3M324.48,981.1v-1.3M331.44,897.8v1.3M331.44,981.1v-1.3M336.37,897.8v1.3M336.37,981.1v-1.3M340.2,897.8v1.3M340.2,981.1v-1.3M343.33,897.8v1.3M343.33,981.1v-1.3M345.98,897.8v1.3M345.98,981.1v-1.3M348.27,897.8v1.3M348.27,981.1v-1.3M350.29,897.8v1.3M350.29,981.1v-1.3M273.07,897.8v2M273.07,981.1v-2M312.58,897.8v2M312.58,981.1v-2M233.55,938.6h2M352.1,938.6h-2M233.55,979.6h2M352.1,979.6h-2" stroke="#777" stroke-width="0.8" fill="none"/>
<path d="M233.55,904.75 L241.93,910 L250.6,919.5 L257.55,929.9 L262.68,938.6 L267.9,951.6 L273.07,966.4 L278.34,975.9 L285.3,979.9 L297.28,980.6 L352.1,981.1" fill="none" stroke="#0072BD" stroke-width="3.25" stroke-linejoin="round" stroke-linecap="butt"/>
<path d="M233.55,902.5 L241.93,907.4 L250.6,914.3 L259.25,923 L266.19,936.9 L271.45,947.3 L274.86,959.4 L280.14,966.4 L286.98,970.7 L297.28,974.2 L306.22,975.9 L318.23,977.6 L348.27,978.5" fill="none" stroke="#D95319" stroke-width="3.25" stroke-linejoin="round" stroke-linecap="butt"/>
<path d="M233.55,902.1 L241.93,906.5 L250.6,914.3 L257.55,923.8 L262.68,931.7 L267.9,947.3 L273.07,961.2 L278.34,971.6 L285.3,979.4 L297.28,980.6 L340.2,981" fill="none" stroke="#EDB120" stroke-width="3.25" stroke-linejoin="round" stroke-linecap="butt"/>
<path d="M233.55,904.75 L241.93,910 L250.6,919.5 L257.55,929.9 L262.68,938.6 L267.9,950.7 L273.07,962.9 L278.34,973.3 L285.3,978.5 L297.28,980.2 L324.48,980.6" fill="none" stroke="#7E2F8E" stroke-width="3.25" stroke-linejoin="round" stroke-linecap="butt"/>
<text x="226.95" y="903.1" text-anchor="end" font-size="15.4" font-family="Liberation Serif" fill="#262626">0</text>
<text x="226.95" y="943.9" text-anchor="end" font-size="15.4" font-family="Liberation Serif" fill="#262626">-5</text>
<text x="226.95" y="984.9" text-anchor="end" font-size="15.4" font-family="Liberation Serif" fill="#262626">-10</text>
<text x="234.55" y="1007.4" text-anchor="middle" font-size="16" font-family="Liberation Serif" fill="#262626">10<tspan font-size="13" dy="-8">0</tspan></text>
<text x="274.07" y="1007.4" text-anchor="middle" font-size="16" font-family="Liberation Serif" fill="#262626">10<tspan font-size="13" dy="-8">1</tspan></text>
<text x="313.58" y="1007.4" text-anchor="middle" font-size="16" font-family="Liberation Serif" fill="#262626">10<tspan font-size="13" dy="-8">2</tspan></text>
<text x="353.1" y="1007.4" text-anchor="middle" font-size="16" font-family="Liberation Serif" fill="#262626">10<tspan font-size="13" dy="-8">3</tspan></text>
<text x="294.33" y="894.5" text-anchor="middle" font-size="16" font-weight="bold" font-family="Liberation Serif" fill="#000">F22</text>
<text x="294.33" y="1026.85" text-anchor="middle" font-size="12.4" font-weight="bold" font-family="Liberation Serif" fill="#262626">Iterations</text>
<text transform="translate(198.1,937.95) rotate(-90)" text-anchor="middle" font-size="12.4" font-weight="bold" font-family="Liberation Serif" fill="#262626">Best score obtained</text>
<text x="276.5" y="1055.2" text-anchor="middle" font-size="16" font-family="Liberation Serif" fill="#000">(V)</text>
<rect x="422.6" y="897.8" width="118" height="82.7" fill="none" stroke="#3a3a3a" stroke-width="1.1"/>
<path d="M434.44,897.8v1.3M434.44,980.5v-1.3M441.37,897.8v1.3M441.37,980.5v-1.3M446.28,897.8v1.3M446.28,980.5v-1.3M450.09,897.8v1.3M450.09,980.5v-1.3M453.21,897.8v1.3M453.21,980.5v-1.3M455.84,897.8v1.3M455.84,980.5v-1.3M458.12,897.8v1.3M458.12,980.5v-1.3M460.13,897.8v1.3M460.13,980.5v-1.3M473.77,897.8v1.3M473.77,980.5v-1.3M480.7,897.8v1.3M480.7,980.5v-1.3M485.61,897.8v1.3M485.61,980.5v-1.3M489.43,897.8v1.3M489.43,980.5v-1.3M492.54,897.8v1.3M492.54,980.5v-1.3M495.17,897.8v1.3M495.17,980.5v-1.3M497.45,897.8v1.3M497.45,980.5v-1.3M499.47,897.8v1.3M499.47,980.5v-1.3M513.11,897.8v1.3M513.11,980.5v-1.3M520.03,897.8v1.3M520.03,980.5v-1.3M524.95,897.8v1.3M524.95,980.5v-1.3M528.76,897.8v1.3M528.76,980.5v-1.3M531.87,897.8v1.3M531.87,980.5v-1.3M534.51,897.8v1.3M534.51,980.5v-1.3M536.79,897.8v1.3M536.79,980.5v-1.3M538.8,897.8v1.3M538.8,980.5v-1.3M461.93,897.8v2M461.93,980.5v-2M501.27,897.8v2M501.27,980.5v-2M422.6,938.4h2M540.6,938.4h-2M422.6,979.2h2M540.6,979.2h-2" stroke="#777" stroke-width="0.8" fill="none"/>
<path d="M422.6,907.4 L433.38,916 L438.59,918.6 L445.49,927.3 L450.7,940.3 L455.84,952.5 L461.06,968.1 L466.28,977.6 L473.25,979.9 L485.61,980.2 L540.6,980.2" fill="none" stroke="#0072BD" stroke-width="3.25" stroke-linejoin="round" stroke-linecap="butt"/>
<path d="M422.6,905.3 L434.18,908.2 L440.31,913.4 L445.49,921.2 L450.7,927.3 L454.96,933.4 L458.54,945.5 L462.93,961.2 L468.16,969 L475.01,975 L488.91,976.8 L499.28,977.6 L509.72,979.4 L536.79,980.2" fill="none" stroke="#D95319" stroke-width="3.25" stroke-linejoin="round" stroke-linecap="butt"/>
<path d="M422.6,903.5 L434.18,907.4 L440.31,912.6 L445.49,920.4 L450.7,928.2 L455.84,940.3 L461.06,957.7 L466.28,969.8 L473.25,977.6 L485.4,979.4 L528.76,980.2" fill="none" stroke="#EDB120" stroke-width="3.25" stroke-linejoin="round" stroke-linecap="butt"/>
<path d="M422.6,906 L434.18,908.2 L440.31,914.3 L445.49,923 L450.7,933.4 L455.84,947.3 L461.06,962.9 L466.28,973.3 L473.25,976.8 L485.4,977.6 L497.67,978.5 L513.11,980.2" fill="none" stroke="#7E2F8E" stroke-width="3.25" stroke-linejoin="round" stroke-linecap="butt"/>
<text x="416" y="903.1" text-anchor="end" font-size="15.4" font-family="Liberation Serif" fill="#262626">0</text>
<text x="416" y="943.7" text-anchor="end" font-size="15.4" font-family="Liberation Serif" fill="#262626">-5</text>
<text x="416" y="984.5" text-anchor="end" font-size="15.4" font-family="Liberation Serif" fill="#262626">-10</text>
<text x="423.6" y="1006.8" text-anchor="middle" font-size="16" font-family="Liberation Serif" fill="#262626">10<tspan font-size="13" dy="-8">0</tspan></text>
<text x="462.93" y="1006.8" text-anchor="middle" font-size="16" font-family="Liberation Serif" fill="#262626">10<tspan font-size="13" dy="-8">1</tspan></text>
<text x="502.27" y="1006.8" text-anchor="middle" font-size="16" font-family="Liberation Serif" fill="#262626">10<tspan font-size="13" dy="-8">2</tspan></text>
<text x="541.6" y="1006.8" text-anchor="middle" font-size="16" font-family="Liberation Serif" fill="#262626">10<tspan font-size="13" dy="-8">3</tspan></text>
<text x="483.1" y="894.5" text-anchor="middle" font-size="16" font-weight="bold" font-family="Liberation Serif" fill="#000">F23</text>
<text x="483.1" y="1026.25" text-anchor="middle" font-size="12.4" font-weight="bold" font-family="Liberation Serif" fill="#262626">Iterations</text>
<text transform="translate(387.1,937.65) rotate(-90)" text-anchor="middle" font-size="12.4" font-weight="bold" font-family="Liberation Serif" fill="#262626">Best score obtained</text>
<text x="466" y="1052" text-anchor="middle" font-size="16" font-family="Liberation Serif" fill="#000">(W)</text>
<rect x="559.6" y="866" width="190" height="196" fill="#FFE399"/>
<text x="654.5" y="912.2" text-anchor="middle" font-size="16" font-weight="bold" font-family="Liberation Serif" fill="#000">Guide:</text>
<text x="654.5" y="929.5" text-anchor="middle" font-size="15.8" font-family="Liberation Serif" fill="#000">Maximum number of</text>
<text x="654.5" y="946.3" text-anchor="middle" font-size="15.8" font-family="Liberation Serif" fill="#000">iterations</text>
<rect x="611.6" y="967.6" width="85.2" height="62.4" fill="#fff" stroke="#333" stroke-width="0.9"/>
<path d="M617,977H664" stroke="#0072BD" stroke-width="3.2"/>
<path d="M617,991.8H664" stroke="#D95319" stroke-width="3.2"/>
<path d="M617,1006.5H664" stroke="#EDB120" stroke-width="3.2"/>
<path d="M617,1021.3H664" stroke="#7E2F8E" stroke-width="3.2"/>
<text x="667.6" y="981.6" font-size="12.4" font-family="Liberation Serif" fill="#111">1000</text>
<text x="667.6" y="996.3" font-size="12.4" font-family="Liberation Serif" fill="#111">800</text>
<text x="667.6" y="1011" font-size="12.4" font-family="Liberation Serif" fill="#111">500</text>
<text x="667.6" y="1025.6" font-size="12.4" font-family="Liberation Serif" fill="#111">200</text>

</svg></body></html>
